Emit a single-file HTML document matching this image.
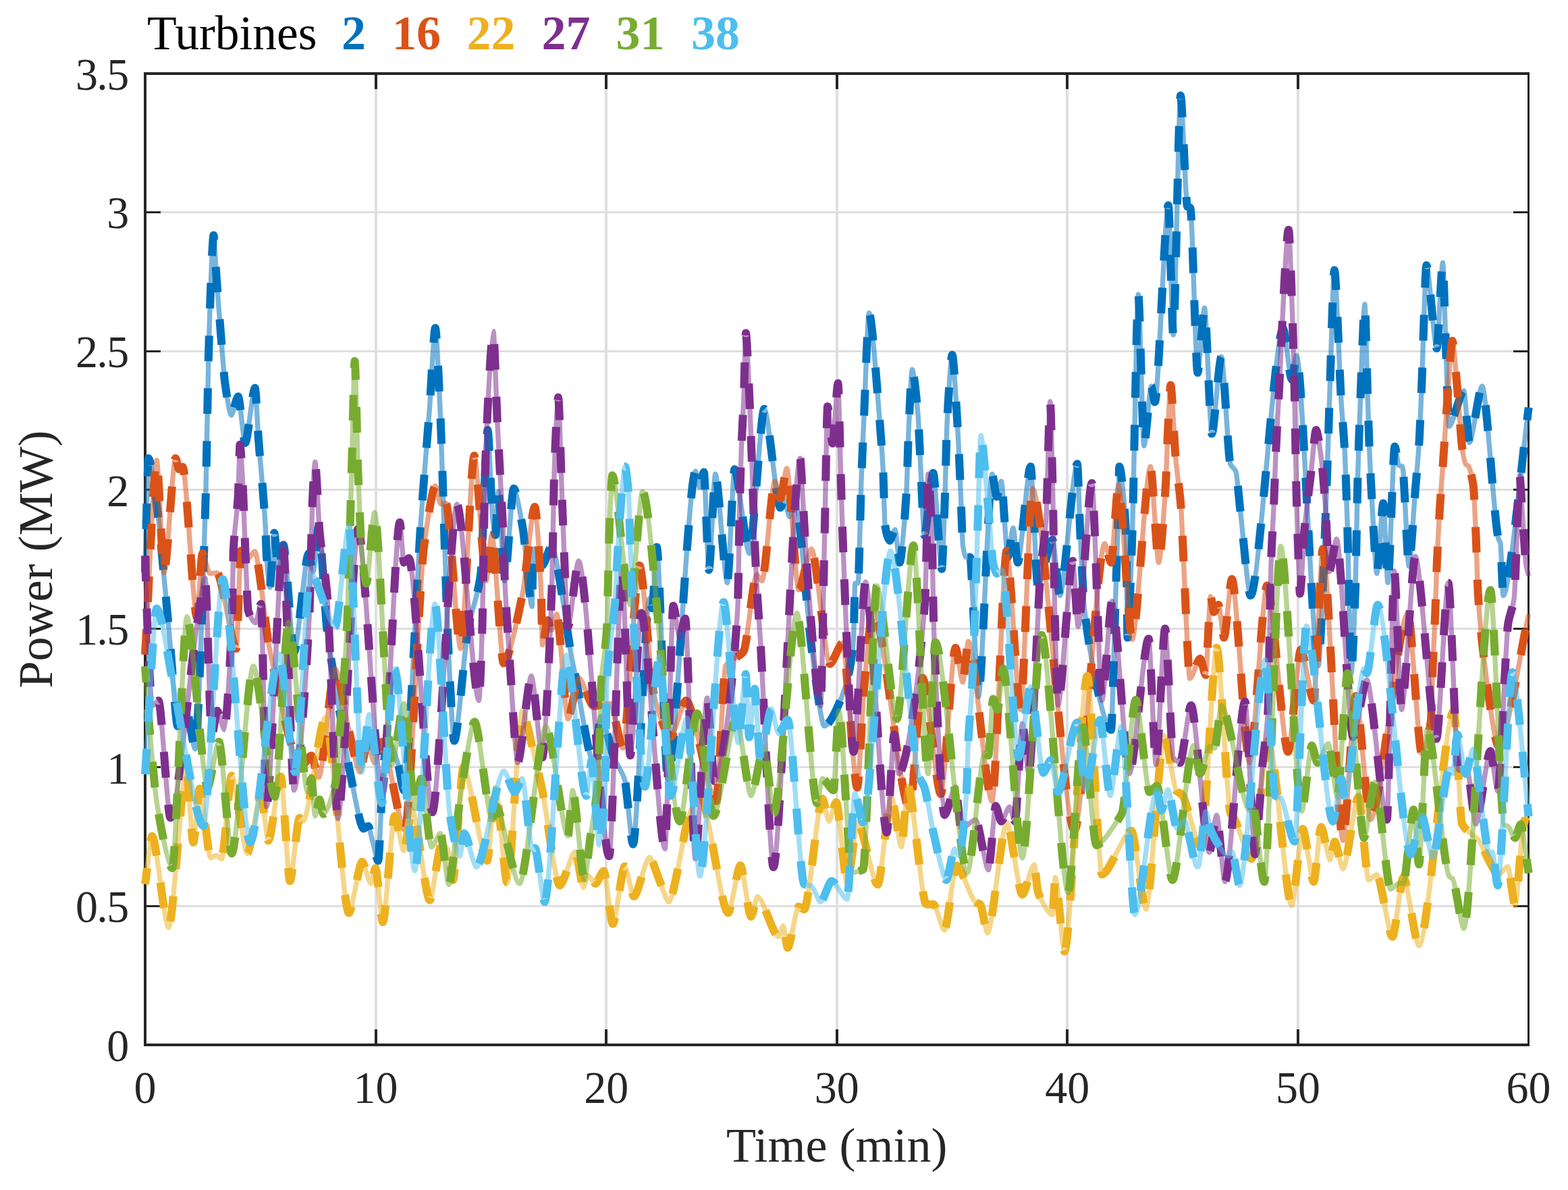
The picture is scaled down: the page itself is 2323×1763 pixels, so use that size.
<!DOCTYPE html>
<html lang="en"><head><meta charset="utf-8"><title>Turbines power</title>
<style>html,body{margin:0;padding:0;background:#fff}body{width:2323px;height:1763px;overflow:hidden}svg{display:block}text{font-family:"Liberation Serif","DejaVu Serif",serif}</style></head><body>
<svg width="2323" height="1763" viewBox="0 0 2323 1763">
<rect width="2323" height="1763" fill="#fff"/>
<g fill="#dfdfdf"><rect x="555" y="111" width="4" height="1435"/><rect x="896" y="111" width="4" height="1435"/><rect x="1238" y="111" width="4" height="1435"/><rect x="1579" y="111" width="4" height="1435"/><rect x="1921" y="111" width="4" height="1435"/><rect x="217" y="1341" width="2046" height="3"/><rect x="217" y="1135" width="2046" height="3"/><rect x="217" y="930" width="2046" height="3"/><rect x="217" y="724" width="2046" height="3"/><rect x="217" y="519" width="2046" height="3"/><rect x="217" y="313" width="2046" height="3"/></g>
<g fill="#262626"><rect x="555" y="1525" width="4" height="21"/><rect x="555" y="111" width="4" height="21"/><rect x="896" y="1525" width="4" height="21"/><rect x="896" y="111" width="4" height="21"/><rect x="1238" y="1525" width="4" height="21"/><rect x="1238" y="111" width="4" height="21"/><rect x="1579" y="1525" width="4" height="21"/><rect x="1579" y="111" width="4" height="21"/><rect x="1921" y="1525" width="4" height="21"/><rect x="1921" y="111" width="4" height="21"/><rect x="217" y="1341" width="21" height="3"/><rect x="2242" y="1341" width="21" height="3"/><rect x="217" y="1135" width="21" height="3"/><rect x="2242" y="1135" width="21" height="3"/><rect x="217" y="930" width="21" height="3"/><rect x="2242" y="930" width="21" height="3"/><rect x="217" y="724" width="21" height="3"/><rect x="2242" y="724" width="21" height="3"/><rect x="217" y="519" width="21" height="3"/><rect x="2242" y="519" width="21" height="3"/><rect x="217" y="313" width="21" height="3"/><rect x="2242" y="313" width="21" height="3"/>
<rect x="213" y="107" width="4" height="1443"/><rect x="213" y="107" width="2053" height="4"/><rect x="213" y="1546" width="2053" height="4"/><rect x="2263" y="107" width="3" height="1443"/></g>
<path d="M215.0 847.8C216.2 805.6 218.7 679.0 219.9 679.0C223.6 679.0 231.1 739.8 234.8 769.1C236.9 785.2 240.9 832.7 243.0 854.6C245.4 880.0 250.1 933.1 252.5 959.0C255.2 988.4 260.6 1075.8 263.3 1075.8C266.5 1075.8 272.9 1050.3 276.1 1050.3C279.4 1050.3 285.9 1109.8 289.1 1109.8C293.1 1109.8 301.0 864.3 305.0 724.7C305.9 691.3 307.9 570.4 308.8 534.8C310.1 484.2 312.9 399.4 314.2 376.6C314.8 367.3 315.8 348.4 316.4 348.4C317.4 348.4 319.5 394.0 320.5 408.2C322.1 430.0 325.2 470.9 326.8 490.5C328.4 510.4 331.6 554.7 333.2 566.5C335.6 584.0 340.3 615.2 342.7 615.2C345.2 615.2 350.3 587.4 352.8 587.4C355.4 587.4 360.6 656.3 363.2 656.3C366.9 656.3 374.1 574.7 377.8 574.7C379.1 574.7 381.6 631.5 382.8 648.7C385.4 684.9 390.7 732.7 393.3 781.6C393.7 789.1 394.5 817.3 394.9 823.4C396.1 842.0 398.6 870.1 399.8 870.1C401.4 870.1 404.7 789.4 406.3 789.4C407.9 789.4 410.9 847.0 412.5 847.0C414.3 847.0 418.0 807.3 419.8 807.3C423.8 807.3 431.7 966.3 435.6 966.3C441.0 966.3 451.9 820.1 457.3 820.1C459.0 820.1 462.3 847.0 464.0 847.0C466.1 847.0 470.1 779.4 472.2 779.4C475.2 779.4 481.3 905.2 484.4 931.9C488.1 964.5 495.6 1007.2 499.3 1030.5C504.4 1062.2 514.5 1125.4 519.6 1149.9C524.4 1172.8 533.9 1227.7 538.6 1227.7C540.3 1227.7 543.7 1223.9 545.4 1223.9C547.1 1223.9 550.5 1241.6 552.2 1247.5C554.2 1254.5 558.3 1275.2 560.3 1275.2C562.0 1275.2 565.4 1169.3 567.1 1149.9C568.8 1130.5 572.2 1093.7 573.9 1093.7C578.0 1093.7 586.1 1120.1 590.2 1133.6C592.2 1140.3 596.3 1170.8 598.3 1170.8C604.8 1170.8 617.6 854.1 624.1 763.7C627.1 720.9 633.2 647.4 636.3 606.4C638.4 577.5 642.8 486.1 644.9 486.1C646.8 486.1 650.7 578.2 652.6 619.9C655.3 678.4 660.7 886.1 663.4 942.7C665.8 992.5 670.5 1097.5 672.9 1097.5C678.0 1097.5 688.1 960.3 693.2 931.9C698.0 905.3 707.5 886.6 712.2 850.5C714.8 830.9 719.9 637.0 722.5 637.0C724.4 637.0 728.0 753.5 729.9 769.1C730.9 777.5 732.9 792.7 733.9 792.7C735.0 792.7 737.2 727.9 738.3 727.9C740.6 727.9 745.2 860.6 747.5 860.6C750.9 860.6 757.7 723.8 761.1 723.8C764.5 723.8 771.2 763.2 774.6 782.7C778.0 802.3 784.8 898.5 788.2 898.5C788.6 898.5 789.5 813.3 789.9 813.3C793.3 813.3 800.1 837.5 803.5 837.5C806.9 837.5 813.7 809.2 817.1 809.2C824.5 809.2 839.5 934.9 846.9 973.6C848.2 980.6 850.9 994.1 852.3 1000.7C859.1 1034.0 872.6 1130.1 879.4 1130.1C882.1 1130.1 887.6 1061.1 890.3 1061.1C895.0 1061.1 904.5 1111.0 909.3 1122.7C913.4 1132.7 921.5 1141.9 925.6 1155.3C928.6 1165.3 934.8 1250.8 937.8 1250.8C943.9 1250.8 956.1 886.5 962.2 886.5C963.2 886.5 965.2 901.2 966.2 901.2C967.9 901.2 971.3 810.6 973.0 810.6C977.1 810.6 985.2 1154.5 989.3 1154.5C999.6 1154.5 1020.2 698.0 1030.5 698.0C1031.9 698.0 1034.8 722.2 1036.2 722.2C1037.8 722.2 1041.1 699.4 1042.7 699.4C1044.6 699.4 1048.4 844.3 1050.3 844.3C1052.7 844.3 1057.4 702.1 1059.8 702.1C1064.2 702.1 1073.1 863.3 1077.5 863.3C1080.2 863.3 1085.6 695.3 1088.3 695.3C1093.7 695.3 1104.6 819.9 1110.0 819.9C1115.6 819.9 1126.7 605.8 1132.3 605.8C1138.2 605.8 1150.1 752.1 1156.1 752.1C1157.4 752.1 1160.2 740.1 1161.5 740.1C1163.5 740.1 1167.7 765.6 1169.7 765.6C1171.4 765.6 1174.8 727.9 1176.5 727.9C1182.9 727.9 1195.8 912.5 1202.2 959.0C1207.0 993.4 1216.5 1075.8 1221.2 1075.8C1229.3 1075.8 1245.7 1039.5 1253.8 1013.2C1256.5 1004.5 1261.9 979.8 1264.6 945.4C1265.1 938.4 1266.2 864.1 1266.8 864.1C1267.9 864.1 1270.2 864.1 1271.3 864.1C1272.5 864.1 1274.8 746.3 1275.9 714.9C1276.9 687.6 1278.9 642.1 1279.9 619.9C1281.8 577.7 1285.6 463.5 1287.5 463.5C1291.4 463.5 1299.1 572.3 1303.0 619.9C1304.3 636.5 1307.1 671.4 1308.4 698.6C1309.1 712.2 1310.4 772.6 1311.1 777.3C1312.8 789.2 1316.2 800.9 1317.9 800.9C1319.9 800.9 1324.0 784.8 1326.0 784.8C1327.7 784.8 1331.1 833.4 1332.8 833.4C1335.4 833.4 1340.5 769.3 1343.1 725.7C1343.8 714.3 1345.1 662.6 1345.8 647.1C1347.2 615.6 1349.9 547.5 1351.3 547.5C1353.5 547.5 1357.8 589.1 1360.0 614.5C1361.0 626.2 1363.0 674.1 1364.0 693.2C1365.3 718.9 1368.1 792.7 1369.4 792.7C1372.7 792.7 1379.2 700.7 1382.5 700.7C1385.7 700.7 1392.0 842.9 1395.2 842.9C1396.4 842.9 1398.9 766.1 1400.1 731.1C1400.8 711.8 1402.1 647.9 1402.8 633.5C1404.8 591.3 1408.7 525.8 1410.7 525.8C1412.9 525.8 1417.4 610.7 1419.6 649.8C1420.5 665.6 1422.3 707.6 1423.2 728.4C1424.0 746.9 1425.6 800.9 1426.4 807.1C1427.4 815.0 1429.5 825.2 1430.5 825.3C1432.2 825.4 1435.6 825.4 1437.3 825.5C1438.7 825.6 1441.3 895.4 1442.7 918.3C1444.4 947.2 1447.8 1032.4 1449.5 1032.4C1454.6 1032.4 1464.7 702.1 1469.8 702.1C1471.5 702.1 1474.9 735.8 1476.6 735.8C1478.3 735.8 1481.7 712.9 1483.4 712.9C1485.8 712.9 1490.5 825.3 1492.9 825.3C1494.9 825.3 1499.0 782.1 1501.0 782.1C1502.7 782.1 1506.1 833.4 1507.8 833.4C1512.5 833.4 1522.0 691.2 1526.8 691.2C1529.5 691.2 1534.9 868.7 1537.6 868.7C1543.0 868.7 1553.9 799.7 1559.3 799.7C1562.0 799.7 1567.5 882.3 1570.2 882.3C1576.6 882.3 1589.5 687.2 1595.9 687.2C1597.1 687.2 1599.4 772.6 1600.6 796.2C1602.1 827.3 1605.2 891.8 1606.8 904.7C1616.6 986.7 1636.3 1081.3 1646.1 1081.3C1647.6 1081.3 1650.6 950.1 1652.1 904.7C1653.0 878.2 1654.7 826.5 1655.6 796.2C1656.3 772.8 1657.6 691.2 1658.3 691.2C1660.8 691.2 1665.9 741.6 1668.4 796.2C1668.9 807.6 1670.0 944.6 1670.5 944.6C1672.2 944.6 1675.6 843.4 1677.3 796.2C1679.6 733.1 1684.1 436.2 1686.4 436.2C1688.5 436.2 1692.7 660.7 1694.8 660.7C1697.5 660.7 1702.9 571.9 1705.6 571.9C1706.9 571.9 1709.7 595.6 1711.0 595.6C1716.0 595.6 1725.9 304.2 1730.9 304.2C1732.7 304.2 1736.4 496.1 1738.2 496.1C1740.9 496.1 1746.3 141.5 1749.0 141.5C1751.5 141.5 1756.6 304.2 1759.1 306.1C1760.2 306.9 1762.4 307.2 1763.5 308.0C1766.2 310.0 1771.6 552.2 1774.3 552.2C1776.8 552.2 1782.0 456.1 1784.5 456.1C1787.2 456.1 1792.6 642.6 1795.3 642.6C1798.8 642.6 1805.9 528.5 1809.4 528.5C1812.8 528.5 1819.5 680.2 1822.8 687.7C1824.8 692.3 1829.0 693.7 1831.0 698.6C1832.7 702.6 1836.0 743.9 1837.7 758.3C1841.5 790.6 1849.0 882.3 1852.7 882.3C1864.8 882.3 1888.9 487.0 1900.9 487.0C1904.1 487.0 1910.5 562.2 1913.7 562.2C1915.5 562.2 1919.0 526.6 1920.8 526.6C1928.8 526.6 1945.0 986.4 1953.0 986.4C1956.4 986.4 1963.2 778.2 1966.6 687.7C1967.5 664.4 1969.2 604.3 1970.1 579.2C1971.8 530.4 1975.2 400.2 1976.9 400.2C1979.4 400.2 1984.4 552.3 1986.9 592.8C1988.3 615.1 1991.0 644.9 1992.4 671.5C1993.3 688.5 1995.0 741.3 1995.9 769.1C1997.4 816.7 2000.4 997.3 2001.9 997.3C2003.5 997.3 2006.5 916.3 2008.1 869.5C2008.9 845.4 2010.5 744.7 2011.3 714.9C2012.3 676.8 2014.4 618.9 2015.4 592.8C2017.0 551.3 2020.3 450.7 2021.9 450.7C2023.0 450.7 2025.2 559.2 2026.3 592.8C2027.0 613.4 2028.3 655.5 2029.0 671.5C2030.0 695.3 2032.0 733.1 2033.0 750.1C2034.7 779.0 2038.1 849.7 2039.8 849.7C2042.2 849.7 2046.9 745.5 2049.3 745.5C2051.0 745.5 2054.4 863.3 2056.1 863.3C2058.7 863.3 2063.8 661.4 2066.4 661.4C2067.9 661.4 2070.9 688.9 2072.4 689.7C2073.8 690.4 2076.5 690.5 2077.8 691.2C2080.2 692.4 2084.9 838.9 2087.3 838.9C2089.7 838.9 2094.4 754.9 2096.8 725.7C2098.4 706.6 2101.4 673.6 2103.0 647.1C2103.8 633.0 2105.5 588.5 2106.3 568.4C2108.1 525.7 2111.6 392.9 2113.3 392.9C2117.1 392.9 2124.7 516.1 2128.5 516.1C2130.8 516.1 2135.2 389.3 2137.5 389.3C2138.4 389.3 2140.4 465.5 2141.3 490.6C2142.7 526.3 2145.3 631.9 2146.7 631.9C2152.2 631.9 2163.2 578.7 2168.7 578.7C2170.7 578.7 2174.8 655.8 2176.8 655.8C2181.6 655.8 2191.1 571.9 2195.8 571.9C2201.9 571.9 2214.1 781.9 2220.2 799.0C2220.9 800.9 2222.2 802.1 2222.9 804.4C2223.9 807.9 2226.0 882.3 2227.0 882.3C2236.4 882.3 2255.3 673.4 2264.7 603.7" fill="none" stroke="#0072BD" stroke-opacity="0.53" stroke-width="7.4" stroke-linejoin="round"/>
<path d="M215.0 847.8C216.2 805.6 218.7 679.0 219.9 679.0C223.6 679.0 231.1 739.8 234.8 769.1C236.9 785.2 240.9 832.7 243.0 854.6C245.4 880.0 250.1 933.1 252.5 959.0C255.2 988.4 260.6 1075.8 263.3 1075.8C266.5 1075.8 272.9 1050.3 276.1 1050.3C279.4 1050.3 285.9 1109.8 289.1 1109.8C293.1 1109.8 301.0 864.3 305.0 724.7C305.9 691.3 307.9 570.4 308.8 534.8C310.1 484.2 312.9 399.4 314.2 376.6C314.8 367.3 315.8 348.4 316.4 348.4C317.4 348.4 319.5 394.0 320.5 408.2C322.1 430.0 325.2 470.9 326.8 490.5C328.4 510.4 331.6 554.7 333.2 566.5C335.6 584.0 340.3 615.2 342.7 615.2C345.2 615.2 350.3 587.4 352.8 587.4C355.4 587.4 360.6 656.3 363.2 656.3C366.9 656.3 374.1 574.7 377.8 574.7C379.1 574.7 381.6 631.5 382.8 648.7C385.4 684.9 390.7 732.7 393.3 781.6C393.7 789.1 394.5 817.3 394.9 823.4C396.1 842.0 398.6 870.1 399.8 870.1C401.4 870.1 404.7 789.4 406.3 789.4C407.9 789.4 410.9 847.0 412.5 847.0C414.3 847.0 418.0 807.3 419.8 807.3C423.8 807.3 431.7 966.3 435.6 966.3C441.0 966.3 451.9 820.1 457.3 820.1C459.0 820.1 462.3 847.0 464.0 847.0C466.1 847.0 470.1 779.4 472.2 779.4C475.2 779.4 481.3 905.2 484.4 931.9C488.1 964.5 495.6 1007.2 499.3 1030.5C504.4 1062.2 514.5 1125.4 519.6 1149.9C524.4 1172.8 533.9 1227.7 538.6 1227.7C540.3 1227.7 543.7 1223.9 545.4 1223.9C547.1 1223.9 550.5 1241.6 552.2 1247.5C554.2 1254.5 558.3 1275.2 560.3 1275.2C562.0 1275.2 565.4 1169.3 567.1 1149.9C568.8 1130.5 572.2 1093.7 573.9 1093.7C578.0 1093.7 586.1 1120.1 590.2 1133.6C592.2 1140.3 596.3 1170.8 598.3 1170.8C604.8 1170.8 617.6 854.1 624.1 763.7C627.1 720.9 633.2 647.4 636.3 606.4C638.4 577.5 642.8 486.1 644.9 486.1C646.8 486.1 650.7 578.2 652.6 619.9C655.3 678.4 660.7 886.1 663.4 942.7C665.8 992.5 670.5 1097.5 672.9 1097.5C678.0 1097.5 688.1 960.3 693.2 931.9C698.0 905.3 707.5 886.6 712.2 850.5C714.8 830.9 719.9 637.0 722.5 637.0C724.4 637.0 728.0 753.5 729.9 769.1C730.9 777.5 732.9 792.7 733.9 792.7C735.0 792.7 737.2 727.9 738.3 727.9C740.6 727.9 745.2 860.6 747.5 860.6C750.9 860.6 757.7 723.8 761.1 723.8C764.5 723.8 771.2 763.2 774.6 782.7C778.0 802.3 784.8 898.5 788.2 898.5C788.6 898.5 789.5 813.3 789.9 813.3C793.3 813.3 800.1 837.5 803.5 837.5C806.9 837.5 813.7 809.2 817.1 809.2C824.5 809.2 839.5 934.9 846.9 973.6C848.2 980.6 850.9 994.1 852.3 1000.7C859.1 1034.0 872.6 1130.1 879.4 1130.1C882.1 1130.1 887.6 1061.1 890.3 1061.1C895.0 1061.1 904.5 1111.0 909.3 1122.7C913.4 1132.7 921.5 1141.9 925.6 1155.3C928.6 1165.3 934.8 1250.8 937.8 1250.8C943.9 1250.8 956.1 886.5 962.2 886.5C963.2 886.5 965.2 901.2 966.2 901.2C967.9 901.2 971.3 810.6 973.0 810.6C977.1 810.6 985.2 1154.5 989.3 1154.5C999.6 1154.5 1020.2 698.0 1030.5 698.0C1031.9 698.0 1034.8 722.2 1036.2 722.2C1037.8 722.2 1041.1 699.4 1042.7 699.4C1044.6 699.4 1048.4 844.3 1050.3 844.3C1052.7 844.3 1057.4 702.1 1059.8 702.1C1064.2 702.1 1073.1 863.3 1077.5 863.3C1080.2 863.3 1085.6 695.3 1088.3 695.3C1093.7 695.3 1104.6 819.9 1110.0 819.9C1115.6 819.9 1126.7 605.8 1132.3 605.8C1138.2 605.8 1150.1 752.1 1156.1 752.1C1157.4 752.1 1160.2 740.1 1161.5 740.1C1163.5 740.1 1167.7 765.6 1169.7 765.6C1171.4 765.6 1174.8 727.9 1176.5 727.9C1182.9 727.9 1195.8 912.5 1202.2 959.0C1207.0 993.4 1216.5 1075.8 1221.2 1075.8C1229.3 1075.8 1245.7 1039.5 1253.8 1013.2C1256.5 1004.5 1261.9 979.8 1264.6 945.4C1265.1 938.4 1266.2 864.1 1266.8 864.1C1267.9 864.1 1270.2 864.1 1271.3 864.1C1272.5 864.1 1274.8 746.3 1275.9 714.9C1276.9 687.6 1278.9 642.1 1279.9 619.9C1281.8 577.7 1285.6 463.5 1287.5 463.5C1291.4 463.5 1299.1 572.3 1303.0 619.9C1304.3 636.5 1307.1 671.4 1308.4 698.6C1309.1 712.2 1310.4 772.6 1311.1 777.3C1312.8 789.2 1316.2 800.9 1317.9 800.9C1319.9 800.9 1324.0 784.8 1326.0 784.8C1327.7 784.8 1331.1 833.4 1332.8 833.4C1335.4 833.4 1340.5 769.3 1343.1 725.7C1343.8 714.3 1345.1 662.6 1345.8 647.1C1347.2 615.6 1349.9 547.5 1351.3 547.5C1353.5 547.5 1357.8 589.1 1360.0 614.5C1361.0 626.2 1363.0 674.1 1364.0 693.2C1365.3 718.9 1368.1 792.7 1369.4 792.7C1372.7 792.7 1379.2 700.7 1382.5 700.7C1385.7 700.7 1392.0 842.9 1395.2 842.9C1396.4 842.9 1398.9 766.1 1400.1 731.1C1400.8 711.8 1402.1 647.9 1402.8 633.5C1404.8 591.3 1408.7 525.8 1410.7 525.8C1412.9 525.8 1417.4 610.7 1419.6 649.8C1420.5 665.6 1422.3 707.6 1423.2 728.4C1424.0 746.9 1425.6 800.9 1426.4 807.1C1427.4 815.0 1429.5 825.2 1430.5 825.3C1432.2 825.4 1435.6 825.4 1437.3 825.5C1438.7 825.6 1441.3 895.4 1442.7 918.3C1444.4 947.2 1447.8 1032.4 1449.5 1032.4C1454.6 1032.4 1464.7 702.1 1469.8 702.1C1471.5 702.1 1474.9 735.8 1476.6 735.8C1478.3 735.8 1481.7 712.9 1483.4 712.9C1485.8 712.9 1490.5 825.3 1492.9 825.3C1494.9 825.3 1499.0 782.1 1501.0 782.1C1502.7 782.1 1506.1 833.4 1507.8 833.4C1512.5 833.4 1522.0 691.2 1526.8 691.2C1529.5 691.2 1534.9 868.7 1537.6 868.7C1543.0 868.7 1553.9 799.7 1559.3 799.7C1562.0 799.7 1567.5 882.3 1570.2 882.3C1576.6 882.3 1589.5 687.2 1595.9 687.2C1597.1 687.2 1599.4 772.6 1600.6 796.2C1602.1 827.3 1605.2 891.8 1606.8 904.7C1616.6 986.7 1636.3 1081.3 1646.1 1081.3C1647.6 1081.3 1650.6 950.1 1652.1 904.7C1653.0 878.2 1654.7 826.5 1655.6 796.2C1656.3 772.8 1657.6 691.2 1658.3 691.2C1660.8 691.2 1665.9 741.6 1668.4 796.2C1668.9 807.6 1670.0 944.6 1670.5 944.6C1672.2 944.6 1675.6 843.4 1677.3 796.2C1679.6 733.1 1684.1 436.2 1686.4 436.2C1688.5 436.2 1692.7 660.7 1694.8 660.7C1697.5 660.7 1702.9 571.9 1705.6 571.9C1706.9 571.9 1709.7 595.6 1711.0 595.6C1716.0 595.6 1725.9 304.2 1730.9 304.2C1732.7 304.2 1736.4 496.1 1738.2 496.1C1740.9 496.1 1746.3 141.5 1749.0 141.5C1751.5 141.5 1756.6 304.2 1759.1 306.1C1760.2 306.9 1762.4 307.2 1763.5 308.0C1766.2 310.0 1771.6 552.2 1774.3 552.2C1776.8 552.2 1782.0 456.1 1784.5 456.1C1787.2 456.1 1792.6 642.6 1795.3 642.6C1798.8 642.6 1805.9 528.5 1809.4 528.5C1812.8 528.5 1819.5 680.2 1822.8 687.7C1824.8 692.3 1829.0 693.7 1831.0 698.6C1832.7 702.6 1836.0 743.9 1837.7 758.3C1841.5 790.6 1849.0 882.3 1852.7 882.3C1864.8 882.3 1888.9 487.0 1900.9 487.0C1904.1 487.0 1910.5 562.2 1913.7 562.2C1915.5 562.2 1919.0 526.6 1920.8 526.6C1928.8 526.6 1945.0 986.4 1953.0 986.4C1956.4 986.4 1963.2 778.2 1966.6 687.7C1967.5 664.4 1969.2 604.3 1970.1 579.2C1971.8 530.4 1975.2 400.2 1976.9 400.2C1979.4 400.2 1984.4 552.3 1986.9 592.8C1988.3 615.1 1991.0 644.9 1992.4 671.5C1993.3 688.5 1995.0 741.3 1995.9 769.1C1997.4 816.7 2000.4 997.3 2001.9 997.3C2003.5 997.3 2006.5 916.3 2008.1 869.5C2008.9 845.4 2010.5 744.7 2011.3 714.9C2012.3 676.8 2014.4 618.9 2015.4 592.8C2017.0 551.3 2020.3 450.7 2021.9 450.7C2023.0 450.7 2025.2 559.2 2026.3 592.8C2027.0 613.4 2028.3 655.5 2029.0 671.5C2030.0 695.3 2032.0 733.1 2033.0 750.1C2034.7 779.0 2038.1 849.7 2039.8 849.7C2042.2 849.7 2046.9 745.5 2049.3 745.5C2051.0 745.5 2054.4 863.3 2056.1 863.3C2058.7 863.3 2063.8 661.4 2066.4 661.4C2067.9 661.4 2070.9 688.9 2072.4 689.7C2073.8 690.4 2076.5 690.5 2077.8 691.2C2080.2 692.4 2084.9 838.9 2087.3 838.9C2089.7 838.9 2094.4 754.9 2096.8 725.7C2098.4 706.6 2101.4 673.6 2103.0 647.1C2103.8 633.0 2105.5 588.5 2106.3 568.4C2108.1 525.7 2111.6 392.9 2113.3 392.9C2117.1 392.9 2124.7 516.1 2128.5 516.1C2130.8 516.1 2135.2 389.3 2137.5 389.3C2138.4 389.3 2140.4 465.5 2141.3 490.6C2142.7 526.3 2145.3 631.9 2146.7 631.9C2152.2 631.9 2163.2 578.7 2168.7 578.7C2170.7 578.7 2174.8 655.8 2176.8 655.8C2181.6 655.8 2191.1 571.9 2195.8 571.9C2201.9 571.9 2214.1 781.9 2220.2 799.0C2220.9 800.9 2222.2 802.1 2222.9 804.4C2223.9 807.9 2226.0 882.3 2227.0 882.3C2236.4 882.3 2255.3 673.4 2264.7 603.7" fill="none" stroke="#0072BD" stroke-width="12" stroke-dasharray="38 40" stroke-dashoffset="14" stroke-linejoin="round"/>
<path d="M215.0 969.8C219.3 897.8 227.8 681.8 232.1 681.8C234.8 681.8 240.3 848.4 243.0 848.4C247.3 848.4 255.8 679.0 260.1 679.0C261.4 679.0 263.9 695.1 265.2 695.1C266.6 695.1 269.2 691.8 270.6 691.8C275.9 691.8 286.5 914.8 291.8 914.8C293.8 914.8 297.9 820.1 299.9 820.1C302.6 820.1 308.1 849.7 310.8 849.7C313.5 849.7 318.9 848.6 321.6 848.6C328.7 848.6 343.0 960.9 350.1 960.9C351.8 960.9 355.2 816.0 356.9 816.0C359.6 816.0 365.0 828.0 367.7 828.0C370.1 828.0 374.8 816.6 377.2 816.6C382.6 816.6 393.5 932.3 398.9 959.0C410.8 1017.4 434.5 1135.5 446.4 1135.5C450.1 1135.5 457.6 1119.5 461.3 1119.5C464.0 1119.5 469.5 1151.8 472.2 1151.8C478.3 1151.8 490.5 990.6 496.6 990.6C501.7 990.6 511.8 1061.3 516.9 1082.1C521.0 1098.8 529.1 1143.7 533.2 1143.7C535.9 1143.7 541.4 1101.8 544.1 1101.8C546.8 1101.8 552.2 1130.1 554.9 1130.1C557.6 1130.1 563.1 1099.1 565.8 1099.1C574.3 1099.1 591.2 1230.5 599.7 1230.5C606.8 1230.5 621.0 863.3 628.1 809.8C632.3 777.9 640.8 719.7 645.0 719.7C646.9 719.7 650.7 746.6 652.6 746.6C654.6 746.6 658.7 745.5 660.7 745.5C666.1 745.5 677.0 960.9 682.4 960.9C687.5 960.9 697.6 675.0 702.7 675.0C707.1 675.0 716.0 860.6 720.4 860.6C722.4 860.6 726.5 791.6 728.5 791.6C732.9 791.6 741.7 982.6 746.1 982.6C753.2 982.6 767.5 913.1 774.6 877.6C779.0 855.5 787.9 750.9 792.3 750.9C794.6 750.9 799.4 822.8 801.7 877.6C802.2 888.1 803.0 955.5 803.5 955.5C805.5 955.5 809.6 919.1 811.6 919.1C813.0 919.1 815.7 933.8 817.1 933.8C819.0 933.8 822.8 909.6 824.7 909.6C828.9 909.6 837.3 1065.0 841.5 1065.0C845.5 1065.0 853.7 1004.2 857.7 1004.2C863.1 1004.2 874.0 1046.0 879.4 1046.0C885.5 1046.0 897.8 1042.2 903.9 1042.2C908.6 1042.2 918.1 1108.4 922.8 1108.4C928.9 1108.4 941.2 837.7 947.3 837.7C952.7 837.7 963.6 1008.9 969.0 1030.5C975.1 1054.7 987.3 1092.1 993.4 1092.1C999.1 1092.1 1010.6 1038.1 1016.4 1038.1C1027.6 1038.1 1050.0 1187.1 1061.2 1187.1C1064.6 1187.1 1071.3 993.0 1074.7 987.1C1081.5 975.2 1095.1 974.8 1101.9 964.4C1106.7 957.1 1116.2 851.3 1120.9 851.3C1122.9 851.3 1127.0 860.6 1129.0 860.6C1133.8 860.6 1143.2 712.9 1148.0 712.9C1150.0 712.9 1154.1 738.5 1156.1 738.5C1158.5 738.5 1163.2 694.0 1165.6 694.0C1170.0 694.0 1178.8 874.1 1183.2 874.1C1188.0 874.1 1197.5 813.3 1202.2 813.3C1209.0 813.3 1222.6 983.6 1229.4 983.6C1234.1 983.6 1243.6 952.7 1248.3 952.7C1253.7 952.7 1264.6 1166.7 1270.0 1166.7C1272.5 1166.7 1277.4 1050.3 1279.9 1022.4C1283.3 984.1 1290.1 900.1 1293.5 900.1C1307.0 900.1 1334.2 1199.3 1347.7 1199.3C1352.5 1199.3 1362.0 1004.2 1366.7 1004.2C1373.5 1004.2 1387.1 1176.2 1393.9 1176.2C1399.3 1176.2 1410.2 959.8 1415.6 959.8C1418.3 959.8 1423.7 1010.7 1426.4 1010.7C1428.4 1010.7 1432.5 950.3 1434.5 950.3C1443.3 950.3 1461.0 1187.1 1469.8 1187.1C1475.2 1187.1 1486.1 816.0 1491.5 816.0C1496.6 816.0 1506.8 1051.4 1511.9 1051.4C1516.3 1051.4 1525.1 723.8 1529.5 723.8C1545.1 723.8 1576.3 1230.5 1591.9 1230.5C1603.1 1230.5 1625.4 805.2 1636.6 805.2C1639.0 805.2 1643.7 833.4 1646.1 833.4C1648.8 833.4 1654.3 718.4 1657.0 718.4C1662.1 718.4 1672.2 947.4 1677.3 947.4C1684.1 947.4 1697.6 691.2 1704.4 691.2C1707.5 691.2 1713.5 833.4 1716.6 833.4C1719.2 833.4 1724.4 760.3 1727.0 717.6C1727.8 704.5 1729.4 654.9 1730.2 638.9C1731.2 618.4 1733.3 570.5 1734.3 570.5C1736.1 570.5 1739.8 656.0 1741.6 676.9C1743.6 700.1 1747.7 725.4 1749.7 752.8C1750.7 765.6 1752.5 812.7 1753.5 831.5C1755.8 877.5 1760.5 1005.3 1762.8 1005.3C1766.6 1005.3 1774.3 975.7 1778.1 975.7C1780.1 975.7 1784.2 999.9 1786.2 999.9C1788.0 999.9 1791.7 883.8 1793.5 883.8C1794.7 883.8 1797.2 906.7 1798.4 906.7C1800.1 906.7 1803.5 896.0 1805.2 896.0C1807.2 896.0 1811.3 944.6 1813.3 944.6C1816.2 944.6 1822.1 858.1 1825.0 858.1C1831.6 858.1 1844.7 1130.1 1851.3 1130.1C1857.8 1130.1 1870.6 867.6 1877.1 867.6C1884.9 867.6 1900.5 1113.8 1908.3 1113.8C1913.0 1113.8 1922.5 962.5 1927.3 962.5C1932.0 962.5 1941.5 1037.9 1946.2 1037.9C1949.6 1037.9 1956.4 813.3 1959.8 813.3C1967.2 813.3 1982.1 1245.4 1989.6 1245.4C1994.3 1245.4 2003.8 1031.3 2008.6 1031.3C2014.0 1031.3 2024.9 1214.2 2030.3 1214.2C2044.2 1214.2 2072.0 908.2 2085.9 908.2C2091.0 908.2 2101.2 1116.5 2106.3 1116.5C2109.7 1116.5 2116.4 1094.2 2119.8 1068.5C2120.5 1063.2 2121.9 1007.1 2122.6 989.8C2123.5 968.1 2125.2 935.0 2126.1 912.9C2126.8 895.9 2128.1 850.0 2128.8 834.2C2129.8 810.2 2131.9 772.4 2132.9 755.6C2134.2 733.5 2137.0 698.9 2138.3 679.6C2139.7 660.3 2142.3 618.9 2143.7 600.9C2145.7 574.6 2149.6 504.9 2151.6 504.9C2153.7 504.9 2157.9 564.5 2160.0 587.4C2161.6 605.1 2164.9 655.7 2166.5 666.0C2167.7 673.8 2170.2 686.3 2171.4 687.7C2172.4 688.9 2174.5 689.4 2175.5 690.5C2177.3 692.5 2181.0 707.1 2182.8 720.3C2183.8 727.5 2185.8 775.6 2186.8 799.0C2187.5 815.4 2188.9 865.2 2189.6 877.6C2191.2 905.1 2194.2 938.5 2195.8 952.2C2201.9 1005.9 2214.1 1105.7 2220.2 1105.7C2231.3 1105.7 2253.6 959.1 2264.7 910.2" fill="none" stroke="#D95319" stroke-opacity="0.53" stroke-width="7.4" stroke-linejoin="round"/>
<path d="M215.0 969.8C219.3 897.8 227.8 681.8 232.1 681.8C234.8 681.8 240.3 848.4 243.0 848.4C247.3 848.4 255.8 679.0 260.1 679.0C261.4 679.0 263.9 695.1 265.2 695.1C266.6 695.1 269.2 691.8 270.6 691.8C275.9 691.8 286.5 914.8 291.8 914.8C293.8 914.8 297.9 820.1 299.9 820.1C302.6 820.1 308.1 849.7 310.8 849.7C313.5 849.7 318.9 848.6 321.6 848.6C328.7 848.6 343.0 960.9 350.1 960.9C351.8 960.9 355.2 816.0 356.9 816.0C359.6 816.0 365.0 828.0 367.7 828.0C370.1 828.0 374.8 816.6 377.2 816.6C382.6 816.6 393.5 932.3 398.9 959.0C410.8 1017.4 434.5 1135.5 446.4 1135.5C450.1 1135.5 457.6 1119.5 461.3 1119.5C464.0 1119.5 469.5 1151.8 472.2 1151.8C478.3 1151.8 490.5 990.6 496.6 990.6C501.7 990.6 511.8 1061.3 516.9 1082.1C521.0 1098.8 529.1 1143.7 533.2 1143.7C535.9 1143.7 541.4 1101.8 544.1 1101.8C546.8 1101.8 552.2 1130.1 554.9 1130.1C557.6 1130.1 563.1 1099.1 565.8 1099.1C574.3 1099.1 591.2 1230.5 599.7 1230.5C606.8 1230.5 621.0 863.3 628.1 809.8C632.3 777.9 640.8 719.7 645.0 719.7C646.9 719.7 650.7 746.6 652.6 746.6C654.6 746.6 658.7 745.5 660.7 745.5C666.1 745.5 677.0 960.9 682.4 960.9C687.5 960.9 697.6 675.0 702.7 675.0C707.1 675.0 716.0 860.6 720.4 860.6C722.4 860.6 726.5 791.6 728.5 791.6C732.9 791.6 741.7 982.6 746.1 982.6C753.2 982.6 767.5 913.1 774.6 877.6C779.0 855.5 787.9 750.9 792.3 750.9C794.6 750.9 799.4 822.8 801.7 877.6C802.2 888.1 803.0 955.5 803.5 955.5C805.5 955.5 809.6 919.1 811.6 919.1C813.0 919.1 815.7 933.8 817.1 933.8C819.0 933.8 822.8 909.6 824.7 909.6C828.9 909.6 837.3 1065.0 841.5 1065.0C845.5 1065.0 853.7 1004.2 857.7 1004.2C863.1 1004.2 874.0 1046.0 879.4 1046.0C885.5 1046.0 897.8 1042.2 903.9 1042.2C908.6 1042.2 918.1 1108.4 922.8 1108.4C928.9 1108.4 941.2 837.7 947.3 837.7C952.7 837.7 963.6 1008.9 969.0 1030.5C975.1 1054.7 987.3 1092.1 993.4 1092.1C999.1 1092.1 1010.6 1038.1 1016.4 1038.1C1027.6 1038.1 1050.0 1187.1 1061.2 1187.1C1064.6 1187.1 1071.3 993.0 1074.7 987.1C1081.5 975.2 1095.1 974.8 1101.9 964.4C1106.7 957.1 1116.2 851.3 1120.9 851.3C1122.9 851.3 1127.0 860.6 1129.0 860.6C1133.8 860.6 1143.2 712.9 1148.0 712.9C1150.0 712.9 1154.1 738.5 1156.1 738.5C1158.5 738.5 1163.2 694.0 1165.6 694.0C1170.0 694.0 1178.8 874.1 1183.2 874.1C1188.0 874.1 1197.5 813.3 1202.2 813.3C1209.0 813.3 1222.6 983.6 1229.4 983.6C1234.1 983.6 1243.6 952.7 1248.3 952.7C1253.7 952.7 1264.6 1166.7 1270.0 1166.7C1272.5 1166.7 1277.4 1050.3 1279.9 1022.4C1283.3 984.1 1290.1 900.1 1293.5 900.1C1307.0 900.1 1334.2 1199.3 1347.7 1199.3C1352.5 1199.3 1362.0 1004.2 1366.7 1004.2C1373.5 1004.2 1387.1 1176.2 1393.9 1176.2C1399.3 1176.2 1410.2 959.8 1415.6 959.8C1418.3 959.8 1423.7 1010.7 1426.4 1010.7C1428.4 1010.7 1432.5 950.3 1434.5 950.3C1443.3 950.3 1461.0 1187.1 1469.8 1187.1C1475.2 1187.1 1486.1 816.0 1491.5 816.0C1496.6 816.0 1506.8 1051.4 1511.9 1051.4C1516.3 1051.4 1525.1 723.8 1529.5 723.8C1545.1 723.8 1576.3 1230.5 1591.9 1230.5C1603.1 1230.5 1625.4 805.2 1636.6 805.2C1639.0 805.2 1643.7 833.4 1646.1 833.4C1648.8 833.4 1654.3 718.4 1657.0 718.4C1662.1 718.4 1672.2 947.4 1677.3 947.4C1684.1 947.4 1697.6 691.2 1704.4 691.2C1707.5 691.2 1713.5 833.4 1716.6 833.4C1719.2 833.4 1724.4 760.3 1727.0 717.6C1727.8 704.5 1729.4 654.9 1730.2 638.9C1731.2 618.4 1733.3 570.5 1734.3 570.5C1736.1 570.5 1739.8 656.0 1741.6 676.9C1743.6 700.1 1747.7 725.4 1749.7 752.8C1750.7 765.6 1752.5 812.7 1753.5 831.5C1755.8 877.5 1760.5 1005.3 1762.8 1005.3C1766.6 1005.3 1774.3 975.7 1778.1 975.7C1780.1 975.7 1784.2 999.9 1786.2 999.9C1788.0 999.9 1791.7 883.8 1793.5 883.8C1794.7 883.8 1797.2 906.7 1798.4 906.7C1800.1 906.7 1803.5 896.0 1805.2 896.0C1807.2 896.0 1811.3 944.6 1813.3 944.6C1816.2 944.6 1822.1 858.1 1825.0 858.1C1831.6 858.1 1844.7 1130.1 1851.3 1130.1C1857.8 1130.1 1870.6 867.6 1877.1 867.6C1884.9 867.6 1900.5 1113.8 1908.3 1113.8C1913.0 1113.8 1922.5 962.5 1927.3 962.5C1932.0 962.5 1941.5 1037.9 1946.2 1037.9C1949.6 1037.9 1956.4 813.3 1959.8 813.3C1967.2 813.3 1982.1 1245.4 1989.6 1245.4C1994.3 1245.4 2003.8 1031.3 2008.6 1031.3C2014.0 1031.3 2024.9 1214.2 2030.3 1214.2C2044.2 1214.2 2072.0 908.2 2085.9 908.2C2091.0 908.2 2101.2 1116.5 2106.3 1116.5C2109.7 1116.5 2116.4 1094.2 2119.8 1068.5C2120.5 1063.2 2121.9 1007.1 2122.6 989.8C2123.5 968.1 2125.2 935.0 2126.1 912.9C2126.8 895.9 2128.1 850.0 2128.8 834.2C2129.8 810.2 2131.9 772.4 2132.9 755.6C2134.2 733.5 2137.0 698.9 2138.3 679.6C2139.7 660.3 2142.3 618.9 2143.7 600.9C2145.7 574.6 2149.6 504.9 2151.6 504.9C2153.7 504.9 2157.9 564.5 2160.0 587.4C2161.6 605.1 2164.9 655.7 2166.5 666.0C2167.7 673.8 2170.2 686.3 2171.4 687.7C2172.4 688.9 2174.5 689.4 2175.5 690.5C2177.3 692.5 2181.0 707.1 2182.8 720.3C2183.8 727.5 2185.8 775.6 2186.8 799.0C2187.5 815.4 2188.9 865.2 2189.6 877.6C2191.2 905.1 2194.2 938.5 2195.8 952.2C2201.9 1005.9 2214.1 1105.7 2220.2 1105.7C2231.3 1105.7 2253.6 959.1 2264.7 910.2" fill="none" stroke="#D95319" stroke-width="12" stroke-dasharray="38 40" stroke-dashoffset="0" stroke-linejoin="round"/>
<path d="M215.0 1309.9C217.6 1292.1 222.7 1238.8 225.3 1238.8C231.4 1238.8 243.7 1374.2 249.8 1374.2C256.4 1374.2 269.5 1141.2 276.1 1141.2C278.7 1141.2 283.8 1248.1 286.4 1248.1C288.8 1248.1 293.5 1168.3 295.9 1168.3C299.9 1168.3 308.1 1271.1 312.1 1271.1C314.2 1271.1 318.2 1267.3 320.3 1267.3C322.3 1267.3 326.4 1272.5 328.4 1272.5C332.1 1272.5 339.6 1149.3 343.3 1149.3C349.1 1149.3 360.6 1264.4 366.4 1264.4C371.5 1264.4 381.6 1177.8 386.7 1177.8C389.4 1177.8 394.9 1245.4 397.6 1245.4C402.2 1245.4 411.4 1150.7 416.0 1150.7C419.4 1150.7 426.2 1305.1 429.6 1305.1C433.1 1305.1 440.2 1211.7 443.7 1211.7C445.1 1211.7 447.8 1216.9 449.1 1216.9C457.4 1216.9 473.9 1062.5 482.2 1062.5C490.9 1062.5 508.2 1352.5 516.9 1352.5C521.8 1352.5 531.6 1276.8 536.5 1276.8C539.8 1276.8 546.2 1309.1 549.5 1309.1C551.2 1309.1 554.6 1286.3 556.3 1286.3C559.0 1286.3 564.4 1366.1 567.1 1366.1C571.5 1366.1 580.3 1209.0 584.7 1209.0C588.1 1209.0 594.9 1260.3 598.3 1260.3C601.3 1260.3 607.5 1199.5 610.5 1199.5C617.1 1199.5 630.2 1333.5 636.8 1333.5C641.1 1333.5 649.6 1251.0 653.9 1251.0C656.3 1251.0 661.0 1255.0 663.4 1258.4C665.3 1261.1 669.1 1303.7 671.0 1303.7C674.9 1303.7 682.6 1137.1 686.5 1137.1C695.3 1137.1 712.9 1275.2 721.7 1275.2C724.8 1275.2 730.9 1166.9 733.9 1166.9C738.3 1166.9 747.2 1307.8 751.6 1307.8C757.1 1307.8 768.2 1053.0 773.7 1053.0C777.4 1053.0 784.9 1091.8 788.6 1106.5C792.3 1121.2 799.8 1153.7 803.5 1171.6C810.0 1202.5 822.8 1311.8 829.3 1311.8C835.0 1311.8 846.5 1261.9 852.3 1261.9C855.3 1261.9 861.5 1314.5 864.5 1314.5C866.2 1314.5 869.6 1297.1 871.3 1297.1C874.0 1297.1 879.5 1309.1 882.2 1309.1C885.2 1309.1 891.4 1290.4 894.4 1290.4C897.8 1290.4 904.5 1368.8 907.9 1368.8C912.3 1368.8 921.2 1283.6 925.6 1283.6C929.0 1283.6 935.7 1328.1 939.1 1328.1C944.9 1328.1 956.4 1270.0 962.2 1270.0C965.9 1270.0 973.4 1295.8 977.1 1304.5C980.5 1312.4 987.3 1336.2 990.7 1336.2C998.2 1336.2 1013.0 1229.8 1020.5 1209.5C1024.6 1198.4 1032.7 1175.1 1036.8 1175.1C1047.3 1175.1 1068.3 1352.5 1078.8 1352.5C1083.3 1352.5 1092.5 1282.2 1097.0 1282.2C1100.9 1282.2 1108.8 1357.9 1112.7 1357.9C1115.1 1357.9 1119.8 1328.3 1122.2 1328.3C1130.0 1328.3 1145.6 1387.8 1153.4 1387.8C1155.1 1387.8 1158.5 1371.7 1160.2 1371.7C1161.9 1371.7 1165.3 1404.1 1167.0 1404.1C1171.0 1404.1 1179.2 1343.2 1183.2 1343.2C1185.2 1343.2 1189.4 1347.1 1191.4 1347.1C1198.2 1347.1 1211.7 1183.2 1218.5 1183.2C1220.9 1183.2 1225.6 1216.9 1228.0 1216.9C1230.7 1216.9 1236.2 1188.6 1238.9 1188.6C1243.0 1188.6 1251.0 1309.1 1255.1 1309.1C1258.9 1309.1 1266.6 1218.5 1270.4 1218.5C1277.9 1218.5 1292.8 1310.5 1300.3 1310.5C1305.4 1310.5 1315.5 1180.5 1320.6 1180.5C1324.3 1180.5 1331.8 1254.9 1335.5 1254.9C1337.9 1254.9 1342.6 1164.2 1345.0 1164.2C1351.8 1164.2 1365.4 1339.7 1372.2 1339.7C1374.9 1339.7 1380.3 1339.7 1383.0 1339.7C1387.1 1339.7 1395.2 1378.3 1399.3 1378.3C1403.7 1378.3 1412.5 1282.2 1416.9 1282.2C1424.0 1282.2 1438.3 1332.9 1445.4 1337.0C1447.1 1338.0 1450.5 1338.5 1452.2 1339.7C1454.9 1341.5 1460.3 1382.4 1463.0 1382.4C1470.1 1382.4 1484.4 1218.5 1491.5 1218.5C1497.3 1218.5 1508.8 1325.4 1514.6 1325.4C1519.0 1325.4 1527.8 1280.9 1532.2 1280.9C1533.5 1280.9 1536.2 1316.8 1537.6 1320.8C1543.0 1337.1 1553.9 1355.2 1559.3 1355.2C1560.3 1355.2 1562.4 1299.8 1563.4 1299.8C1566.8 1299.8 1573.6 1409.5 1577.0 1409.5C1585.5 1409.5 1602.4 1001.5 1610.9 1001.5C1616.3 1001.5 1627.2 1295.6 1632.6 1295.6C1643.4 1295.6 1665.2 1230.7 1676.0 1230.7C1681.4 1230.7 1692.3 1347.1 1697.7 1347.1C1704.5 1347.1 1718.0 1089.6 1724.8 1089.6C1729.3 1089.6 1738.3 1166.8 1742.8 1171.6C1744.8 1173.8 1748.9 1175.0 1750.9 1177.0C1758.0 1183.9 1772.3 1254.9 1779.4 1254.9C1785.2 1254.9 1796.7 959.7 1802.5 959.7C1807.6 959.7 1817.7 1191.4 1822.8 1204.1C1824.5 1208.4 1827.9 1211.9 1829.6 1215.0C1835.7 1226.2 1847.9 1272.5 1854.0 1272.5C1860.5 1272.5 1873.3 1096.4 1879.8 1096.4C1888.3 1096.4 1905.2 1341.7 1913.7 1341.7C1917.8 1341.7 1925.9 1228.0 1930.0 1228.0C1934.0 1228.0 1942.2 1306.4 1946.2 1306.4C1948.9 1306.4 1954.4 1225.3 1957.1 1225.3C1960.5 1225.3 1967.3 1273.9 1970.7 1273.9C1972.4 1273.9 1975.7 1247.0 1977.4 1247.0C1980.5 1247.0 1986.5 1287.4 1989.6 1287.4C1995.4 1287.4 2006.9 1180.5 2012.7 1180.5C2016.4 1180.5 2023.9 1303.7 2027.6 1303.7C2030.6 1303.7 2036.8 1295.8 2039.8 1295.8C2045.6 1295.8 2057.1 1387.8 2062.9 1387.8C2067.0 1387.8 2075.1 1299.8 2079.2 1299.8C2084.9 1299.8 2096.4 1401.3 2102.2 1401.3C2115.1 1401.3 2140.9 1053.0 2153.8 1053.0C2156.9 1053.0 2162.9 1214.1 2166.0 1220.4C2172.1 1233.0 2184.3 1237.2 2190.4 1244.8C2197.8 1254.1 2212.8 1295.6 2220.2 1295.6C2223.6 1295.6 2230.4 1283.6 2233.8 1283.6C2236.5 1283.6 2241.9 1341.7 2244.6 1341.7C2248.0 1341.7 2254.8 1215.8 2258.2 1215.8C2259.8 1215.8 2263.1 1217.2 2264.7 1217.7" fill="none" stroke="#EDB120" stroke-opacity="0.53" stroke-width="7.4" stroke-linejoin="round"/>
<path d="M215.0 1309.9C217.6 1292.1 222.7 1238.8 225.3 1238.8C231.4 1238.8 243.7 1374.2 249.8 1374.2C256.4 1374.2 269.5 1141.2 276.1 1141.2C278.7 1141.2 283.8 1248.1 286.4 1248.1C288.8 1248.1 293.5 1168.3 295.9 1168.3C299.9 1168.3 308.1 1271.1 312.1 1271.1C314.2 1271.1 318.2 1267.3 320.3 1267.3C322.3 1267.3 326.4 1272.5 328.4 1272.5C332.1 1272.5 339.6 1149.3 343.3 1149.3C349.1 1149.3 360.6 1264.4 366.4 1264.4C371.5 1264.4 381.6 1177.8 386.7 1177.8C389.4 1177.8 394.9 1245.4 397.6 1245.4C402.2 1245.4 411.4 1150.7 416.0 1150.7C419.4 1150.7 426.2 1305.1 429.6 1305.1C433.1 1305.1 440.2 1211.7 443.7 1211.7C445.1 1211.7 447.8 1216.9 449.1 1216.9C457.4 1216.9 473.9 1062.5 482.2 1062.5C490.9 1062.5 508.2 1352.5 516.9 1352.5C521.8 1352.5 531.6 1276.8 536.5 1276.8C539.8 1276.8 546.2 1309.1 549.5 1309.1C551.2 1309.1 554.6 1286.3 556.3 1286.3C559.0 1286.3 564.4 1366.1 567.1 1366.1C571.5 1366.1 580.3 1209.0 584.7 1209.0C588.1 1209.0 594.9 1260.3 598.3 1260.3C601.3 1260.3 607.5 1199.5 610.5 1199.5C617.1 1199.5 630.2 1333.5 636.8 1333.5C641.1 1333.5 649.6 1251.0 653.9 1251.0C656.3 1251.0 661.0 1255.0 663.4 1258.4C665.3 1261.1 669.1 1303.7 671.0 1303.7C674.9 1303.7 682.6 1137.1 686.5 1137.1C695.3 1137.1 712.9 1275.2 721.7 1275.2C724.8 1275.2 730.9 1166.9 733.9 1166.9C738.3 1166.9 747.2 1307.8 751.6 1307.8C757.1 1307.8 768.2 1053.0 773.7 1053.0C777.4 1053.0 784.9 1091.8 788.6 1106.5C792.3 1121.2 799.8 1153.7 803.5 1171.6C810.0 1202.5 822.8 1311.8 829.3 1311.8C835.0 1311.8 846.5 1261.9 852.3 1261.9C855.3 1261.9 861.5 1314.5 864.5 1314.5C866.2 1314.5 869.6 1297.1 871.3 1297.1C874.0 1297.1 879.5 1309.1 882.2 1309.1C885.2 1309.1 891.4 1290.4 894.4 1290.4C897.8 1290.4 904.5 1368.8 907.9 1368.8C912.3 1368.8 921.2 1283.6 925.6 1283.6C929.0 1283.6 935.7 1328.1 939.1 1328.1C944.9 1328.1 956.4 1270.0 962.2 1270.0C965.9 1270.0 973.4 1295.8 977.1 1304.5C980.5 1312.4 987.3 1336.2 990.7 1336.2C998.2 1336.2 1013.0 1229.8 1020.5 1209.5C1024.6 1198.4 1032.7 1175.1 1036.8 1175.1C1047.3 1175.1 1068.3 1352.5 1078.8 1352.5C1083.3 1352.5 1092.5 1282.2 1097.0 1282.2C1100.9 1282.2 1108.8 1357.9 1112.7 1357.9C1115.1 1357.9 1119.8 1328.3 1122.2 1328.3C1130.0 1328.3 1145.6 1387.8 1153.4 1387.8C1155.1 1387.8 1158.5 1371.7 1160.2 1371.7C1161.9 1371.7 1165.3 1404.1 1167.0 1404.1C1171.0 1404.1 1179.2 1343.2 1183.2 1343.2C1185.2 1343.2 1189.4 1347.1 1191.4 1347.1C1198.2 1347.1 1211.7 1183.2 1218.5 1183.2C1220.9 1183.2 1225.6 1216.9 1228.0 1216.9C1230.7 1216.9 1236.2 1188.6 1238.9 1188.6C1243.0 1188.6 1251.0 1309.1 1255.1 1309.1C1258.9 1309.1 1266.6 1218.5 1270.4 1218.5C1277.9 1218.5 1292.8 1310.5 1300.3 1310.5C1305.4 1310.5 1315.5 1180.5 1320.6 1180.5C1324.3 1180.5 1331.8 1254.9 1335.5 1254.9C1337.9 1254.9 1342.6 1164.2 1345.0 1164.2C1351.8 1164.2 1365.4 1339.7 1372.2 1339.7C1374.9 1339.7 1380.3 1339.7 1383.0 1339.7C1387.1 1339.7 1395.2 1378.3 1399.3 1378.3C1403.7 1378.3 1412.5 1282.2 1416.9 1282.2C1424.0 1282.2 1438.3 1332.9 1445.4 1337.0C1447.1 1338.0 1450.5 1338.5 1452.2 1339.7C1454.9 1341.5 1460.3 1382.4 1463.0 1382.4C1470.1 1382.4 1484.4 1218.5 1491.5 1218.5C1497.3 1218.5 1508.8 1325.4 1514.6 1325.4C1519.0 1325.4 1527.8 1280.9 1532.2 1280.9C1533.5 1280.9 1536.2 1316.8 1537.6 1320.8C1543.0 1337.1 1553.9 1355.2 1559.3 1355.2C1560.3 1355.2 1562.4 1299.8 1563.4 1299.8C1566.8 1299.8 1573.6 1409.5 1577.0 1409.5C1585.5 1409.5 1602.4 1001.5 1610.9 1001.5C1616.3 1001.5 1627.2 1295.6 1632.6 1295.6C1643.4 1295.6 1665.2 1230.7 1676.0 1230.7C1681.4 1230.7 1692.3 1347.1 1697.7 1347.1C1704.5 1347.1 1718.0 1089.6 1724.8 1089.6C1729.3 1089.6 1738.3 1166.8 1742.8 1171.6C1744.8 1173.8 1748.9 1175.0 1750.9 1177.0C1758.0 1183.9 1772.3 1254.9 1779.4 1254.9C1785.2 1254.9 1796.7 959.7 1802.5 959.7C1807.6 959.7 1817.7 1191.4 1822.8 1204.1C1824.5 1208.4 1827.9 1211.9 1829.6 1215.0C1835.7 1226.2 1847.9 1272.5 1854.0 1272.5C1860.5 1272.5 1873.3 1096.4 1879.8 1096.4C1888.3 1096.4 1905.2 1341.7 1913.7 1341.7C1917.8 1341.7 1925.9 1228.0 1930.0 1228.0C1934.0 1228.0 1942.2 1306.4 1946.2 1306.4C1948.9 1306.4 1954.4 1225.3 1957.1 1225.3C1960.5 1225.3 1967.3 1273.9 1970.7 1273.9C1972.4 1273.9 1975.7 1247.0 1977.4 1247.0C1980.5 1247.0 1986.5 1287.4 1989.6 1287.4C1995.4 1287.4 2006.9 1180.5 2012.7 1180.5C2016.4 1180.5 2023.9 1303.7 2027.6 1303.7C2030.6 1303.7 2036.8 1295.8 2039.8 1295.8C2045.6 1295.8 2057.1 1387.8 2062.9 1387.8C2067.0 1387.8 2075.1 1299.8 2079.2 1299.8C2084.9 1299.8 2096.4 1401.3 2102.2 1401.3C2115.1 1401.3 2140.9 1053.0 2153.8 1053.0C2156.9 1053.0 2162.9 1214.1 2166.0 1220.4C2172.1 1233.0 2184.3 1237.2 2190.4 1244.8C2197.8 1254.1 2212.8 1295.6 2220.2 1295.6C2223.6 1295.6 2230.4 1283.6 2233.8 1283.6C2236.5 1283.6 2241.9 1341.7 2244.6 1341.7C2248.0 1341.7 2254.8 1215.8 2258.2 1215.8C2259.8 1215.8 2263.1 1217.2 2264.7 1217.7" fill="none" stroke="#EDB120" stroke-width="12" stroke-dasharray="38 40" stroke-dashoffset="14" stroke-linejoin="round"/>
<path d="M215.0 823.4C215.9 850.5 217.7 911.8 218.6 931.9C220.3 969.4 223.6 1046.0 225.3 1046.0C227.7 1046.0 232.4 1038.1 234.8 1038.1C239.2 1038.1 248.1 1211.5 252.5 1211.5C262.3 1211.5 282.0 987.9 291.8 926.4C294.9 907.3 300.9 856.7 304.0 856.7C306.4 856.7 311.1 1092.1 313.5 1092.1C315.5 1092.1 319.6 1053.0 321.6 1053.0C324.3 1053.0 329.8 1081.3 332.5 1081.3C335.2 1081.3 340.6 990.5 343.3 926.4C344.0 910.4 345.3 825.8 346.0 812.5C347.7 778.9 351.1 763.4 352.8 733.9C353.5 722.2 354.8 658.7 355.5 658.7C356.5 658.7 358.6 696.4 359.6 714.9C360.6 733.4 362.7 799.8 363.7 823.4C364.7 846.4 366.7 901.1 367.7 904.7C370.4 914.4 375.9 922.9 378.6 922.9C380.6 922.9 384.7 894.7 386.7 894.7C388.8 894.7 392.8 1195.2 394.9 1195.2C401.0 1195.2 413.2 805.2 419.3 805.2C423.4 805.2 431.5 1170.8 435.6 1170.8C441.4 1170.8 452.9 1021.5 458.6 904.7C459.6 883.9 461.7 769.9 462.7 747.4C463.7 724.9 465.8 684.5 466.8 684.5C468.5 684.5 471.8 769.7 473.5 788.1C476.2 818.1 481.7 846.5 484.4 877.6C488.5 924.1 496.6 1212.8 500.7 1212.8C508.1 1212.8 523.0 783.5 530.5 783.5C539.3 783.5 557.0 1173.5 565.8 1173.5C572.4 1173.5 585.7 774.0 592.3 774.0C593.8 774.0 596.8 833.4 598.3 833.4C600.2 833.4 604.0 826.9 605.9 826.9C614.5 826.9 631.8 1203.3 640.4 1203.3C649.5 1203.3 667.9 746.9 677.0 746.9C685.1 746.9 701.4 1037.9 709.5 1037.9C710.7 1037.9 713.2 969.7 714.4 931.9C715.5 896.4 717.9 719.1 719.0 687.7C722.0 606.3 727.9 490.8 730.9 490.8C732.3 490.8 735.2 590.4 736.6 619.9C737.6 641.1 739.7 679.3 740.7 698.6C741.7 717.9 743.8 750.9 744.8 774.5C745.5 790.0 746.8 838.3 747.5 853.2C749.5 897.8 753.6 956.8 755.6 986.1C758.4 1026.9 764.1 1130.1 766.9 1130.1C772.0 1130.1 782.1 1001.5 787.2 1001.5C791.3 1001.5 799.4 1122.0 803.5 1122.0C807.0 1122.0 814.1 970.8 817.6 869.5C818.5 844.4 820.2 725.9 821.1 701.3C822.6 659.2 825.6 588.7 827.1 588.7C828.5 588.7 831.4 707.7 832.8 742.0C835.0 794.3 839.3 928.4 841.5 928.4C845.4 928.4 853.3 830.9 857.2 830.9C868.5 830.9 891.2 1268.4 902.5 1268.4C907.2 1268.4 916.8 840.4 921.5 840.4C924.5 840.4 930.7 1119.2 933.7 1119.2C937.8 1119.2 945.9 908.2 950.0 908.2C958.8 908.2 976.4 1257.6 985.2 1257.6C988.2 1257.6 994.4 897.4 997.4 897.4C999.8 897.4 1004.5 944.6 1006.9 944.6C1009.0 944.6 1013.0 916.4 1015.1 916.4C1018.8 916.4 1026.3 1272.5 1030.0 1272.5C1034.4 1272.5 1043.2 1034.0 1047.6 1034.0C1050.3 1034.0 1055.8 1157.2 1058.5 1157.2C1067.1 1157.2 1084.3 1042.6 1092.9 900.7C1093.7 888.3 1095.2 774.6 1095.9 744.7C1096.5 720.8 1097.7 681.8 1098.3 666.0C1099.2 642.3 1101.0 611.5 1101.9 588.7C1102.7 569.0 1104.2 493.5 1105.0 493.5C1106.1 493.5 1108.4 548.1 1109.5 571.1C1110.3 587.5 1111.9 628.4 1112.7 649.8C1113.4 667.8 1114.7 709.1 1115.4 728.4C1116.1 747.7 1117.4 788.5 1118.1 804.4C1119.1 828.6 1121.2 868.6 1122.2 885.8C1123.2 903.0 1125.3 929.5 1126.3 945.4C1131.2 1021.1 1140.9 1284.7 1145.8 1284.7C1155.7 1284.7 1175.5 679.0 1185.4 679.0C1186.6 679.0 1188.8 731.4 1190.0 750.1C1191.2 768.8 1193.4 813.2 1194.6 828.8C1199.9 900.6 1210.5 1046.0 1215.8 1046.0C1217.3 1046.0 1220.3 849.9 1221.8 785.4C1222.9 739.2 1225.0 602.3 1226.1 602.3C1227.9 602.3 1231.6 657.1 1233.4 657.1C1235.5 657.1 1239.5 567.8 1241.6 567.8C1242.5 567.8 1244.2 652.3 1245.1 682.3C1245.6 701.2 1246.8 745.6 1247.3 761.0C1251.6 881.9 1260.3 1113.8 1264.6 1113.8C1269.0 1113.8 1277.9 862.1 1282.3 862.1C1290.2 862.1 1305.9 1233.2 1313.8 1233.2C1316.5 1233.2 1322.0 1088.3 1324.7 1088.3C1326.4 1088.3 1329.8 1146.4 1331.5 1146.4C1341.2 1146.4 1360.6 1023.4 1370.3 891.2C1370.9 883.0 1372.1 836.4 1372.7 812.5C1373.2 790.6 1374.4 702.1 1374.9 702.1C1376.4 702.1 1379.3 756.5 1380.8 796.2C1381.3 811.0 1382.5 898.6 1383.0 915.6C1387.1 1041.4 1395.2 1207.4 1399.3 1207.4C1403.4 1207.4 1411.5 1165.6 1415.6 1165.6C1417.6 1165.6 1421.7 1227.7 1423.7 1227.7C1429.1 1227.7 1440.0 1214.4 1445.4 1214.4C1450.2 1214.4 1459.7 1288.8 1464.4 1288.8C1467.1 1288.8 1472.5 1194.1 1475.2 1194.1C1477.2 1194.1 1481.4 1216.9 1483.4 1216.9C1486.5 1216.9 1492.5 1195.4 1495.6 1195.4C1497.6 1195.4 1501.7 1216.9 1503.7 1216.9C1506.4 1216.9 1511.9 1072.0 1514.6 1072.0C1517.0 1072.0 1521.7 1146.4 1524.1 1146.4C1528.5 1146.4 1537.3 896.6 1541.7 845.1C1543.7 821.4 1547.8 798.6 1549.8 769.1C1551.3 747.3 1554.3 595.0 1555.8 595.0C1556.9 595.0 1559.0 700.0 1560.1 750.1C1560.7 779.3 1562.0 879.3 1562.6 904.7C1563.8 954.6 1566.3 1044.7 1567.5 1044.7C1572.9 1044.7 1583.8 830.9 1589.2 830.9C1591.2 830.9 1595.3 928.4 1597.3 928.4C1602.4 928.4 1612.5 715.7 1617.6 715.7C1621.3 715.7 1628.8 1037.9 1632.6 1037.9C1636.3 1037.9 1643.8 890.6 1647.5 890.6C1653.9 890.6 1666.8 1146.4 1673.2 1146.4C1680.3 1146.4 1694.6 946.2 1701.7 946.2C1704.4 946.2 1709.9 1132.8 1712.6 1132.8C1716.0 1132.8 1722.7 931.3 1726.1 931.3C1729.1 931.3 1735.2 1118.5 1738.3 1122.7C1740.8 1126.1 1745.7 1130.1 1748.2 1130.1C1752.3 1130.1 1760.4 1044.9 1764.5 1044.9C1771.3 1044.9 1784.8 1263.0 1791.6 1263.0C1794.3 1263.0 1799.8 1207.6 1802.5 1207.6C1805.5 1207.6 1811.7 1306.4 1814.7 1306.4C1822.2 1306.4 1837.0 1039.4 1844.5 1039.4C1848.2 1039.4 1855.7 1265.7 1859.4 1265.7C1862.1 1265.7 1867.6 1162.8 1870.3 1133.6C1872.3 1111.9 1876.4 1089.2 1878.4 1054.9C1879.6 1034.1 1882.1 863.3 1883.3 828.8C1884.2 802.1 1886.1 772.2 1887.1 750.1C1887.8 732.7 1889.3 688.3 1890.1 671.5C1891.1 648.6 1893.2 611.5 1894.2 592.8C1897.9 525.2 1905.3 340.5 1909.0 340.5C1911.2 340.5 1915.6 496.2 1917.8 579.2C1918.5 607.5 1920.0 706.9 1920.8 736.6C1921.4 760.3 1922.6 797.2 1923.2 813.9C1923.9 832.6 1925.2 879.5 1925.9 879.5C1927.6 879.5 1931.0 801.1 1932.7 782.7C1935.1 756.9 1939.8 721.5 1942.2 701.3C1944.1 685.1 1947.9 637.0 1949.8 637.0C1952.0 637.0 1956.3 669.9 1958.5 687.7C1959.8 698.8 1962.6 736.1 1963.9 755.6C1965.2 775.1 1968.0 847.0 1969.3 847.0C1972.0 847.0 1977.5 798.4 1980.2 798.4C1986.3 798.4 1998.5 1092.1 2004.6 1092.1C2009.7 1092.1 2019.8 1006.9 2024.9 1006.9C2032.3 1006.9 2047.2 1214.2 2054.7 1214.2C2057.4 1214.2 2062.9 845.9 2065.6 845.9C2068.3 845.9 2073.7 1051.4 2076.4 1051.4C2081.5 1051.4 2091.7 824.2 2096.8 824.2C2104.6 824.2 2120.2 1094.8 2128.0 1094.8C2132.4 1094.8 2141.2 863.5 2145.6 863.5C2149.3 863.5 2156.8 1140.0 2160.5 1140.9C2163.9 1141.7 2170.7 1141.7 2174.1 1142.5C2177.2 1143.2 2183.2 1221.0 2186.3 1221.0C2191.7 1221.0 2202.6 1112.7 2208.0 1112.7C2210.7 1112.7 2216.2 1172.1 2218.9 1172.1C2222.8 1172.1 2230.5 948.2 2234.3 923.7C2236.6 909.4 2241.1 901.9 2243.3 885.8C2245.3 871.3 2249.4 704.8 2251.4 704.8C2252.4 704.8 2254.5 749.4 2255.5 763.7C2256.8 782.6 2259.6 828.4 2260.9 836.9C2261.8 842.9 2263.8 849.1 2264.7 853.2" fill="none" stroke="#7E2F8E" stroke-opacity="0.53" stroke-width="7.4" stroke-linejoin="round"/>
<path d="M215.0 823.4C215.9 850.5 217.7 911.8 218.6 931.9C220.3 969.4 223.6 1046.0 225.3 1046.0C227.7 1046.0 232.4 1038.1 234.8 1038.1C239.2 1038.1 248.1 1211.5 252.5 1211.5C262.3 1211.5 282.0 987.9 291.8 926.4C294.9 907.3 300.9 856.7 304.0 856.7C306.4 856.7 311.1 1092.1 313.5 1092.1C315.5 1092.1 319.6 1053.0 321.6 1053.0C324.3 1053.0 329.8 1081.3 332.5 1081.3C335.2 1081.3 340.6 990.5 343.3 926.4C344.0 910.4 345.3 825.8 346.0 812.5C347.7 778.9 351.1 763.4 352.8 733.9C353.5 722.2 354.8 658.7 355.5 658.7C356.5 658.7 358.6 696.4 359.6 714.9C360.6 733.4 362.7 799.8 363.7 823.4C364.7 846.4 366.7 901.1 367.7 904.7C370.4 914.4 375.9 922.9 378.6 922.9C380.6 922.9 384.7 894.7 386.7 894.7C388.8 894.7 392.8 1195.2 394.9 1195.2C401.0 1195.2 413.2 805.2 419.3 805.2C423.4 805.2 431.5 1170.8 435.6 1170.8C441.4 1170.8 452.9 1021.5 458.6 904.7C459.6 883.9 461.7 769.9 462.7 747.4C463.7 724.9 465.8 684.5 466.8 684.5C468.5 684.5 471.8 769.7 473.5 788.1C476.2 818.1 481.7 846.5 484.4 877.6C488.5 924.1 496.6 1212.8 500.7 1212.8C508.1 1212.8 523.0 783.5 530.5 783.5C539.3 783.5 557.0 1173.5 565.8 1173.5C572.4 1173.5 585.7 774.0 592.3 774.0C593.8 774.0 596.8 833.4 598.3 833.4C600.2 833.4 604.0 826.9 605.9 826.9C614.5 826.9 631.8 1203.3 640.4 1203.3C649.5 1203.3 667.9 746.9 677.0 746.9C685.1 746.9 701.4 1037.9 709.5 1037.9C710.7 1037.9 713.2 969.7 714.4 931.9C715.5 896.4 717.9 719.1 719.0 687.7C722.0 606.3 727.9 490.8 730.9 490.8C732.3 490.8 735.2 590.4 736.6 619.9C737.6 641.1 739.7 679.3 740.7 698.6C741.7 717.9 743.8 750.9 744.8 774.5C745.5 790.0 746.8 838.3 747.5 853.2C749.5 897.8 753.6 956.8 755.6 986.1C758.4 1026.9 764.1 1130.1 766.9 1130.1C772.0 1130.1 782.1 1001.5 787.2 1001.5C791.3 1001.5 799.4 1122.0 803.5 1122.0C807.0 1122.0 814.1 970.8 817.6 869.5C818.5 844.4 820.2 725.9 821.1 701.3C822.6 659.2 825.6 588.7 827.1 588.7C828.5 588.7 831.4 707.7 832.8 742.0C835.0 794.3 839.3 928.4 841.5 928.4C845.4 928.4 853.3 830.9 857.2 830.9C868.5 830.9 891.2 1268.4 902.5 1268.4C907.2 1268.4 916.8 840.4 921.5 840.4C924.5 840.4 930.7 1119.2 933.7 1119.2C937.8 1119.2 945.9 908.2 950.0 908.2C958.8 908.2 976.4 1257.6 985.2 1257.6C988.2 1257.6 994.4 897.4 997.4 897.4C999.8 897.4 1004.5 944.6 1006.9 944.6C1009.0 944.6 1013.0 916.4 1015.1 916.4C1018.8 916.4 1026.3 1272.5 1030.0 1272.5C1034.4 1272.5 1043.2 1034.0 1047.6 1034.0C1050.3 1034.0 1055.8 1157.2 1058.5 1157.2C1067.1 1157.2 1084.3 1042.6 1092.9 900.7C1093.7 888.3 1095.2 774.6 1095.9 744.7C1096.5 720.8 1097.7 681.8 1098.3 666.0C1099.2 642.3 1101.0 611.5 1101.9 588.7C1102.7 569.0 1104.2 493.5 1105.0 493.5C1106.1 493.5 1108.4 548.1 1109.5 571.1C1110.3 587.5 1111.9 628.4 1112.7 649.8C1113.4 667.8 1114.7 709.1 1115.4 728.4C1116.1 747.7 1117.4 788.5 1118.1 804.4C1119.1 828.6 1121.2 868.6 1122.2 885.8C1123.2 903.0 1125.3 929.5 1126.3 945.4C1131.2 1021.1 1140.9 1284.7 1145.8 1284.7C1155.7 1284.7 1175.5 679.0 1185.4 679.0C1186.6 679.0 1188.8 731.4 1190.0 750.1C1191.2 768.8 1193.4 813.2 1194.6 828.8C1199.9 900.6 1210.5 1046.0 1215.8 1046.0C1217.3 1046.0 1220.3 849.9 1221.8 785.4C1222.9 739.2 1225.0 602.3 1226.1 602.3C1227.9 602.3 1231.6 657.1 1233.4 657.1C1235.5 657.1 1239.5 567.8 1241.6 567.8C1242.5 567.8 1244.2 652.3 1245.1 682.3C1245.6 701.2 1246.8 745.6 1247.3 761.0C1251.6 881.9 1260.3 1113.8 1264.6 1113.8C1269.0 1113.8 1277.9 862.1 1282.3 862.1C1290.2 862.1 1305.9 1233.2 1313.8 1233.2C1316.5 1233.2 1322.0 1088.3 1324.7 1088.3C1326.4 1088.3 1329.8 1146.4 1331.5 1146.4C1341.2 1146.4 1360.6 1023.4 1370.3 891.2C1370.9 883.0 1372.1 836.4 1372.7 812.5C1373.2 790.6 1374.4 702.1 1374.9 702.1C1376.4 702.1 1379.3 756.5 1380.8 796.2C1381.3 811.0 1382.5 898.6 1383.0 915.6C1387.1 1041.4 1395.2 1207.4 1399.3 1207.4C1403.4 1207.4 1411.5 1165.6 1415.6 1165.6C1417.6 1165.6 1421.7 1227.7 1423.7 1227.7C1429.1 1227.7 1440.0 1214.4 1445.4 1214.4C1450.2 1214.4 1459.7 1288.8 1464.4 1288.8C1467.1 1288.8 1472.5 1194.1 1475.2 1194.1C1477.2 1194.1 1481.4 1216.9 1483.4 1216.9C1486.5 1216.9 1492.5 1195.4 1495.6 1195.4C1497.6 1195.4 1501.7 1216.9 1503.7 1216.9C1506.4 1216.9 1511.9 1072.0 1514.6 1072.0C1517.0 1072.0 1521.7 1146.4 1524.1 1146.4C1528.5 1146.4 1537.3 896.6 1541.7 845.1C1543.7 821.4 1547.8 798.6 1549.8 769.1C1551.3 747.3 1554.3 595.0 1555.8 595.0C1556.9 595.0 1559.0 700.0 1560.1 750.1C1560.7 779.3 1562.0 879.3 1562.6 904.7C1563.8 954.6 1566.3 1044.7 1567.5 1044.7C1572.9 1044.7 1583.8 830.9 1589.2 830.9C1591.2 830.9 1595.3 928.4 1597.3 928.4C1602.4 928.4 1612.5 715.7 1617.6 715.7C1621.3 715.7 1628.8 1037.9 1632.6 1037.9C1636.3 1037.9 1643.8 890.6 1647.5 890.6C1653.9 890.6 1666.8 1146.4 1673.2 1146.4C1680.3 1146.4 1694.6 946.2 1701.7 946.2C1704.4 946.2 1709.9 1132.8 1712.6 1132.8C1716.0 1132.8 1722.7 931.3 1726.1 931.3C1729.1 931.3 1735.2 1118.5 1738.3 1122.7C1740.8 1126.1 1745.7 1130.1 1748.2 1130.1C1752.3 1130.1 1760.4 1044.9 1764.5 1044.9C1771.3 1044.9 1784.8 1263.0 1791.6 1263.0C1794.3 1263.0 1799.8 1207.6 1802.5 1207.6C1805.5 1207.6 1811.7 1306.4 1814.7 1306.4C1822.2 1306.4 1837.0 1039.4 1844.5 1039.4C1848.2 1039.4 1855.7 1265.7 1859.4 1265.7C1862.1 1265.7 1867.6 1162.8 1870.3 1133.6C1872.3 1111.9 1876.4 1089.2 1878.4 1054.9C1879.6 1034.1 1882.1 863.3 1883.3 828.8C1884.2 802.1 1886.1 772.2 1887.1 750.1C1887.8 732.7 1889.3 688.3 1890.1 671.5C1891.1 648.6 1893.2 611.5 1894.2 592.8C1897.9 525.2 1905.3 340.5 1909.0 340.5C1911.2 340.5 1915.6 496.2 1917.8 579.2C1918.5 607.5 1920.0 706.9 1920.8 736.6C1921.4 760.3 1922.6 797.2 1923.2 813.9C1923.9 832.6 1925.2 879.5 1925.9 879.5C1927.6 879.5 1931.0 801.1 1932.7 782.7C1935.1 756.9 1939.8 721.5 1942.2 701.3C1944.1 685.1 1947.9 637.0 1949.8 637.0C1952.0 637.0 1956.3 669.9 1958.5 687.7C1959.8 698.8 1962.6 736.1 1963.9 755.6C1965.2 775.1 1968.0 847.0 1969.3 847.0C1972.0 847.0 1977.5 798.4 1980.2 798.4C1986.3 798.4 1998.5 1092.1 2004.6 1092.1C2009.7 1092.1 2019.8 1006.9 2024.9 1006.9C2032.3 1006.9 2047.2 1214.2 2054.7 1214.2C2057.4 1214.2 2062.9 845.9 2065.6 845.9C2068.3 845.9 2073.7 1051.4 2076.4 1051.4C2081.5 1051.4 2091.7 824.2 2096.8 824.2C2104.6 824.2 2120.2 1094.8 2128.0 1094.8C2132.4 1094.8 2141.2 863.5 2145.6 863.5C2149.3 863.5 2156.8 1140.0 2160.5 1140.9C2163.9 1141.7 2170.7 1141.7 2174.1 1142.5C2177.2 1143.2 2183.2 1221.0 2186.3 1221.0C2191.7 1221.0 2202.6 1112.7 2208.0 1112.7C2210.7 1112.7 2216.2 1172.1 2218.9 1172.1C2222.8 1172.1 2230.5 948.2 2234.3 923.7C2236.6 909.4 2241.1 901.9 2243.3 885.8C2245.3 871.3 2249.4 704.8 2251.4 704.8C2252.4 704.8 2254.5 749.4 2255.5 763.7C2256.8 782.6 2259.6 828.4 2260.9 836.9C2261.8 842.9 2263.8 849.1 2264.7 853.2" fill="none" stroke="#7E2F8E" stroke-width="12" stroke-dasharray="38 40" stroke-dashoffset="0" stroke-linejoin="round"/>
<path d="M215.0 987.1C216.6 1009.5 219.7 1057.5 221.3 1076.6C224.0 1109.3 229.4 1170.7 232.1 1187.8C237.9 1224.4 249.4 1286.1 255.2 1286.1C260.6 1286.1 271.5 913.7 276.9 913.7C284.5 913.7 299.9 1166.7 307.5 1166.7C311.7 1166.7 320.1 1099.1 324.3 1099.1C329.1 1099.1 338.6 1264.4 343.3 1264.4C351.3 1264.4 367.3 986.6 375.3 986.6C383.2 986.6 399.2 1180.3 407.1 1180.3C412.2 1180.3 422.3 921.8 427.4 921.8C434.5 921.8 448.8 1173.5 455.9 1173.5C457.2 1173.5 459.9 1153.4 461.3 1153.4C462.7 1153.4 465.4 1208.8 466.8 1208.8C468.5 1208.8 471.8 1184.6 473.5 1184.6C474.9 1184.6 477.6 1206.0 479.0 1206.0C483.5 1206.0 492.5 1180.7 497.0 1160.0C499.0 1150.8 503.0 1089.4 505.0 1063.0C507.2 1033.3 511.8 978.5 514.0 932.0C515.9 893.8 519.5 743.4 521.4 680.0C522.5 644.0 524.5 535.1 525.6 535.1C526.8 535.1 529.3 667.4 530.5 700.0C531.9 736.6 534.6 805.7 536.0 820.0C537.7 837.4 541.0 864.6 542.7 864.6C545.8 864.6 551.9 759.1 554.9 759.1C561.4 759.1 574.2 1132.8 580.7 1132.8C585.1 1132.8 593.9 1042.2 598.3 1042.2C602.4 1042.2 610.5 1197.9 614.6 1197.9C617.0 1197.9 621.7 1153.4 624.1 1153.4C627.8 1153.4 635.3 1254.9 639.0 1254.9C642.4 1254.9 649.2 1234.7 652.6 1234.7C655.6 1234.7 661.8 1310.5 664.8 1310.5C669.2 1310.5 678.0 1204.3 682.4 1177.0C687.6 1144.9 697.9 1069.3 703.1 1069.3C709.5 1069.3 722.5 1214.2 728.9 1214.2C730.2 1214.2 732.9 1194.1 734.3 1194.1C743.1 1194.1 760.8 1309.1 769.6 1309.1C779.4 1309.1 799.1 1076.1 808.9 1076.1C817.0 1076.1 833.4 1238.6 841.5 1238.6C843.2 1238.6 846.6 1171.0 848.3 1171.0C852.7 1171.0 861.5 1303.7 865.9 1303.7C867.9 1303.7 872.0 1259.8 874.0 1244.8C877.0 1222.2 883.2 1193.3 886.2 1152.6C887.4 1137.3 889.6 1029.3 890.8 1011.5C892.8 979.7 897.0 966.1 899.0 931.9C900.0 915.2 902.0 801.7 903.0 777.3C904.0 752.3 906.1 704.3 907.1 704.3C913.8 704.3 927.1 895.8 933.7 895.8C938.2 895.8 947.4 727.9 951.9 727.9C965.6 727.9 993.1 1216.9 1006.9 1216.9C1013.4 1216.9 1026.2 1057.1 1032.7 1057.1C1038.8 1057.1 1051.0 1208.8 1057.1 1208.8C1065.6 1208.8 1082.5 1063.9 1091.0 1063.9C1096.4 1063.9 1107.3 1178.9 1112.7 1178.9C1117.5 1178.9 1127.0 1107.3 1131.7 1107.3C1135.4 1107.3 1142.9 1204.7 1146.6 1204.7C1155.1 1204.7 1172.0 908.2 1180.5 908.2C1188.0 908.2 1202.9 1189.8 1210.4 1189.8C1212.4 1189.8 1216.5 1153.4 1218.5 1153.4C1222.6 1153.4 1230.7 1170.8 1234.8 1170.8C1236.8 1170.8 1240.9 1053.0 1242.9 1053.0C1247.7 1053.0 1257.2 1292.8 1261.9 1292.8C1266.1 1292.8 1274.4 1290.4 1278.6 1288.2C1283.7 1285.5 1293.8 867.6 1298.9 867.6C1306.4 867.6 1321.3 1065.0 1328.8 1065.0C1334.9 1065.0 1347.1 807.9 1353.2 807.9C1358.6 807.9 1369.5 1146.4 1374.9 1146.4C1377.6 1146.4 1383.0 951.6 1385.7 951.6C1397.6 951.6 1421.3 1292.8 1433.2 1292.8C1439.7 1292.8 1452.5 1115.4 1459.0 1115.4C1460.3 1115.4 1463.1 1119.2 1464.4 1119.2C1466.1 1119.2 1469.5 1035.4 1471.2 1035.4C1472.9 1035.4 1476.2 1051.4 1477.9 1051.4C1480.0 1051.4 1484.0 990.6 1486.1 990.6C1493.2 990.6 1507.5 1271.1 1514.6 1271.1C1521.7 1271.1 1535.9 940.8 1543.0 940.8C1552.8 940.8 1572.6 1322.7 1582.4 1322.7C1587.8 1322.7 1598.7 1077.4 1604.1 1077.4C1609.2 1077.4 1619.3 1252.2 1624.4 1252.2C1631.9 1252.2 1646.8 1228.3 1654.3 1217.7C1656.3 1214.8 1660.4 1209.3 1662.4 1204.1C1667.5 1191.2 1677.6 1036.7 1682.7 1036.7C1687.8 1036.7 1698.0 1173.5 1703.1 1173.5C1705.8 1173.5 1711.2 1164.2 1713.9 1164.2C1719.7 1164.2 1731.2 1303.7 1737.0 1303.7C1744.8 1303.7 1760.4 1104.5 1768.2 1104.5C1770.7 1104.5 1775.6 1146.4 1778.1 1146.4C1781.5 1146.4 1788.2 1105.9 1791.6 1105.9C1793.6 1105.9 1797.8 1108.4 1799.8 1108.4C1802.2 1108.4 1806.9 1044.9 1809.3 1044.9C1819.8 1044.9 1840.8 1200.6 1851.3 1200.6C1852.7 1200.6 1855.3 1196.8 1856.7 1196.8C1860.8 1196.8 1868.9 1306.4 1873.0 1306.4C1879.1 1306.4 1891.3 809.2 1897.4 809.2C1905.2 809.2 1920.8 1202.0 1928.6 1202.0C1932.3 1202.0 1939.8 1104.5 1943.5 1104.5C1945.5 1104.5 1949.7 1130.1 1951.7 1130.1C1955.8 1130.1 1963.9 1101.8 1967.9 1101.8C1971.3 1101.8 1978.1 1181.6 1981.5 1181.6C1985.2 1181.6 1992.7 997.4 1996.4 997.4C2002.5 997.4 2014.7 1241.3 2020.8 1241.3C2024.9 1241.3 2033.0 1158.8 2037.1 1158.8C2042.9 1158.8 2054.4 1317.3 2060.2 1317.3C2063.6 1317.3 2070.3 1308.0 2073.7 1308.0C2075.1 1308.0 2077.8 1309.1 2079.2 1309.1C2082.9 1309.1 2090.4 1199.5 2094.1 1199.5C2096.1 1199.5 2100.2 1280.6 2102.2 1280.6C2105.2 1280.6 2111.3 1080.1 2114.4 1080.1C2122.6 1080.1 2138.8 1288.5 2147.0 1298.3C2148.3 1299.9 2151.1 1301.0 2152.4 1302.6C2156.5 1307.5 2164.6 1375.6 2168.7 1375.6C2178.5 1375.6 2198.2 874.3 2208.0 874.3C2213.1 874.3 2223.2 1219.8 2228.3 1222.3C2229.7 1223.0 2232.4 1223.3 2233.8 1223.9C2236.5 1225.1 2241.9 1241.3 2244.6 1241.3C2246.7 1241.3 2250.8 1221.2 2252.8 1221.2C2255.8 1221.2 2261.7 1275.5 2264.7 1293.6" fill="none" stroke="#77AC30" stroke-opacity="0.53" stroke-width="7.4" stroke-linejoin="round"/>
<path d="M215.0 987.1C216.6 1009.5 219.7 1057.5 221.3 1076.6C224.0 1109.3 229.4 1170.7 232.1 1187.8C237.9 1224.4 249.4 1286.1 255.2 1286.1C260.6 1286.1 271.5 913.7 276.9 913.7C284.5 913.7 299.9 1166.7 307.5 1166.7C311.7 1166.7 320.1 1099.1 324.3 1099.1C329.1 1099.1 338.6 1264.4 343.3 1264.4C351.3 1264.4 367.3 986.6 375.3 986.6C383.2 986.6 399.2 1180.3 407.1 1180.3C412.2 1180.3 422.3 921.8 427.4 921.8C434.5 921.8 448.8 1173.5 455.9 1173.5C457.2 1173.5 459.9 1153.4 461.3 1153.4C462.7 1153.4 465.4 1208.8 466.8 1208.8C468.5 1208.8 471.8 1184.6 473.5 1184.6C474.9 1184.6 477.6 1206.0 479.0 1206.0C483.5 1206.0 492.5 1180.7 497.0 1160.0C499.0 1150.8 503.0 1089.4 505.0 1063.0C507.2 1033.3 511.8 978.5 514.0 932.0C515.9 893.8 519.5 743.4 521.4 680.0C522.5 644.0 524.5 535.1 525.6 535.1C526.8 535.1 529.3 667.4 530.5 700.0C531.9 736.6 534.6 805.7 536.0 820.0C537.7 837.4 541.0 864.6 542.7 864.6C545.8 864.6 551.9 759.1 554.9 759.1C561.4 759.1 574.2 1132.8 580.7 1132.8C585.1 1132.8 593.9 1042.2 598.3 1042.2C602.4 1042.2 610.5 1197.9 614.6 1197.9C617.0 1197.9 621.7 1153.4 624.1 1153.4C627.8 1153.4 635.3 1254.9 639.0 1254.9C642.4 1254.9 649.2 1234.7 652.6 1234.7C655.6 1234.7 661.8 1310.5 664.8 1310.5C669.2 1310.5 678.0 1204.3 682.4 1177.0C687.6 1144.9 697.9 1069.3 703.1 1069.3C709.5 1069.3 722.5 1214.2 728.9 1214.2C730.2 1214.2 732.9 1194.1 734.3 1194.1C743.1 1194.1 760.8 1309.1 769.6 1309.1C779.4 1309.1 799.1 1076.1 808.9 1076.1C817.0 1076.1 833.4 1238.6 841.5 1238.6C843.2 1238.6 846.6 1171.0 848.3 1171.0C852.7 1171.0 861.5 1303.7 865.9 1303.7C867.9 1303.7 872.0 1259.8 874.0 1244.8C877.0 1222.2 883.2 1193.3 886.2 1152.6C887.4 1137.3 889.6 1029.3 890.8 1011.5C892.8 979.7 897.0 966.1 899.0 931.9C900.0 915.2 902.0 801.7 903.0 777.3C904.0 752.3 906.1 704.3 907.1 704.3C913.8 704.3 927.1 895.8 933.7 895.8C938.2 895.8 947.4 727.9 951.9 727.9C965.6 727.9 993.1 1216.9 1006.9 1216.9C1013.4 1216.9 1026.2 1057.1 1032.7 1057.1C1038.8 1057.1 1051.0 1208.8 1057.1 1208.8C1065.6 1208.8 1082.5 1063.9 1091.0 1063.9C1096.4 1063.9 1107.3 1178.9 1112.7 1178.9C1117.5 1178.9 1127.0 1107.3 1131.7 1107.3C1135.4 1107.3 1142.9 1204.7 1146.6 1204.7C1155.1 1204.7 1172.0 908.2 1180.5 908.2C1188.0 908.2 1202.9 1189.8 1210.4 1189.8C1212.4 1189.8 1216.5 1153.4 1218.5 1153.4C1222.6 1153.4 1230.7 1170.8 1234.8 1170.8C1236.8 1170.8 1240.9 1053.0 1242.9 1053.0C1247.7 1053.0 1257.2 1292.8 1261.9 1292.8C1266.1 1292.8 1274.4 1290.4 1278.6 1288.2C1283.7 1285.5 1293.8 867.6 1298.9 867.6C1306.4 867.6 1321.3 1065.0 1328.8 1065.0C1334.9 1065.0 1347.1 807.9 1353.2 807.9C1358.6 807.9 1369.5 1146.4 1374.9 1146.4C1377.6 1146.4 1383.0 951.6 1385.7 951.6C1397.6 951.6 1421.3 1292.8 1433.2 1292.8C1439.7 1292.8 1452.5 1115.4 1459.0 1115.4C1460.3 1115.4 1463.1 1119.2 1464.4 1119.2C1466.1 1119.2 1469.5 1035.4 1471.2 1035.4C1472.9 1035.4 1476.2 1051.4 1477.9 1051.4C1480.0 1051.4 1484.0 990.6 1486.1 990.6C1493.2 990.6 1507.5 1271.1 1514.6 1271.1C1521.7 1271.1 1535.9 940.8 1543.0 940.8C1552.8 940.8 1572.6 1322.7 1582.4 1322.7C1587.8 1322.7 1598.7 1077.4 1604.1 1077.4C1609.2 1077.4 1619.3 1252.2 1624.4 1252.2C1631.9 1252.2 1646.8 1228.3 1654.3 1217.7C1656.3 1214.8 1660.4 1209.3 1662.4 1204.1C1667.5 1191.2 1677.6 1036.7 1682.7 1036.7C1687.8 1036.7 1698.0 1173.5 1703.1 1173.5C1705.8 1173.5 1711.2 1164.2 1713.9 1164.2C1719.7 1164.2 1731.2 1303.7 1737.0 1303.7C1744.8 1303.7 1760.4 1104.5 1768.2 1104.5C1770.7 1104.5 1775.6 1146.4 1778.1 1146.4C1781.5 1146.4 1788.2 1105.9 1791.6 1105.9C1793.6 1105.9 1797.8 1108.4 1799.8 1108.4C1802.2 1108.4 1806.9 1044.9 1809.3 1044.9C1819.8 1044.9 1840.8 1200.6 1851.3 1200.6C1852.7 1200.6 1855.3 1196.8 1856.7 1196.8C1860.8 1196.8 1868.9 1306.4 1873.0 1306.4C1879.1 1306.4 1891.3 809.2 1897.4 809.2C1905.2 809.2 1920.8 1202.0 1928.6 1202.0C1932.3 1202.0 1939.8 1104.5 1943.5 1104.5C1945.5 1104.5 1949.7 1130.1 1951.7 1130.1C1955.8 1130.1 1963.9 1101.8 1967.9 1101.8C1971.3 1101.8 1978.1 1181.6 1981.5 1181.6C1985.2 1181.6 1992.7 997.4 1996.4 997.4C2002.5 997.4 2014.7 1241.3 2020.8 1241.3C2024.9 1241.3 2033.0 1158.8 2037.1 1158.8C2042.9 1158.8 2054.4 1317.3 2060.2 1317.3C2063.6 1317.3 2070.3 1308.0 2073.7 1308.0C2075.1 1308.0 2077.8 1309.1 2079.2 1309.1C2082.9 1309.1 2090.4 1199.5 2094.1 1199.5C2096.1 1199.5 2100.2 1280.6 2102.2 1280.6C2105.2 1280.6 2111.3 1080.1 2114.4 1080.1C2122.6 1080.1 2138.8 1288.5 2147.0 1298.3C2148.3 1299.9 2151.1 1301.0 2152.4 1302.6C2156.5 1307.5 2164.6 1375.6 2168.7 1375.6C2178.5 1375.6 2198.2 874.3 2208.0 874.3C2213.1 874.3 2223.2 1219.8 2228.3 1222.3C2229.7 1223.0 2232.4 1223.3 2233.8 1223.9C2236.5 1225.1 2241.9 1241.3 2244.6 1241.3C2246.7 1241.3 2250.8 1221.2 2252.8 1221.2C2255.8 1221.2 2261.7 1275.5 2264.7 1293.6" fill="none" stroke="#77AC30" stroke-width="12" stroke-dasharray="38 40" stroke-dashoffset="14" stroke-linejoin="round"/>
<path d="M215.0 1147.2C219.3 1085.8 227.8 901.5 232.1 901.5C238.9 901.5 252.4 996.2 259.2 1027.8C269.7 1076.8 290.8 1223.7 301.3 1223.7C308.4 1223.7 322.7 858.1 329.8 858.1C340.0 858.1 360.3 1248.1 370.5 1248.1C381.4 1248.1 403.0 968.9 413.9 968.9C419.6 968.9 431.1 1143.7 436.9 1143.7C442.7 1143.7 454.2 848.6 460.0 848.6C469.1 848.6 487.5 928.4 496.6 928.4C501.7 928.4 511.8 779.4 516.9 779.4C521.6 779.4 531.1 1143.7 535.9 1143.7C538.6 1143.7 544.1 1058.4 546.8 1058.4C551.5 1058.4 561.0 1189.8 565.8 1189.8C570.5 1189.8 580.0 990.6 584.7 990.6C592.2 990.6 607.1 1290.1 614.6 1290.1C622.0 1290.1 637.0 894.7 644.4 894.7C649.8 894.7 660.7 1169.3 666.1 1204.1C669.8 1228.0 677.3 1268.4 681.0 1268.4C682.7 1268.4 686.1 1234.7 687.8 1234.7C692.3 1234.7 701.3 1284.7 705.8 1284.7C716.0 1284.7 736.3 1142.5 746.5 1142.5C750.6 1142.5 758.7 1173.5 762.8 1173.5C765.5 1173.5 771.0 1153.4 773.7 1153.4C777.4 1153.4 784.9 1258.9 788.6 1258.9C789.6 1258.9 791.6 1256.4 792.6 1256.4C796.1 1256.4 803.2 1336.2 806.8 1336.2C814.8 1336.2 830.8 970.6 838.8 970.6C846.2 970.6 861.1 1178.9 868.6 1178.9C870.6 1178.9 874.7 1126.2 876.7 1126.2C879.4 1126.2 884.9 1252.2 887.6 1252.2C889.8 1252.2 894.1 1209.8 896.3 1168.9C897.0 1156.2 898.3 1024.9 899.0 1011.5C902.0 950.9 908.2 932.6 911.2 891.2C912.2 877.3 914.3 832.0 915.3 815.2C916.6 793.1 919.4 751.0 920.7 736.6C922.1 722.2 924.8 691.2 926.1 691.2C927.5 691.2 930.1 717.3 931.5 736.6C932.1 745.5 933.4 800.5 934.0 815.2C939.4 940.8 950.0 1165.4 955.4 1165.4C960.8 1165.4 971.7 971.6 977.1 971.6C981.2 971.6 989.3 1178.9 993.4 1178.9C999.5 1178.9 1011.7 1063.9 1017.8 1063.9C1022.5 1063.9 1032.0 1298.3 1036.8 1298.3C1045.6 1298.3 1063.2 892.0 1072.0 892.0C1077.4 892.0 1088.3 1100.3 1093.7 1100.3C1096.4 1100.3 1101.9 998.8 1104.6 998.8C1105.9 998.8 1108.7 1092.1 1110.0 1092.1C1112.0 1092.1 1116.1 1020.5 1118.1 1020.5C1120.1 1020.5 1124.2 1124.7 1126.3 1124.7C1130.4 1124.7 1138.5 1050.3 1142.6 1050.3C1145.3 1050.3 1150.7 1086.7 1153.4 1086.7C1156.8 1086.7 1163.6 1066.6 1167.0 1066.6C1173.1 1066.6 1185.3 1307.2 1191.4 1309.9C1194.1 1311.1 1199.5 1311.5 1202.2 1312.6C1205.6 1314.0 1212.4 1336.2 1215.8 1336.2C1219.9 1336.2 1228.0 1305.3 1232.1 1305.3C1237.8 1305.3 1249.3 1332.2 1255.1 1332.2C1257.9 1332.2 1263.6 1175.1 1266.4 1175.1C1269.5 1175.1 1275.5 1218.3 1278.6 1218.3C1288.8 1218.3 1309.1 816.0 1319.3 816.0C1329.8 816.0 1350.8 1120.3 1361.3 1149.9C1363.3 1155.6 1367.4 1160.5 1369.4 1166.1C1372.8 1175.5 1379.6 1219.5 1383.0 1234.0C1387.8 1254.3 1397.2 1303.7 1402.0 1303.7C1405.0 1303.7 1411.2 1257.8 1414.2 1257.8C1415.9 1257.8 1419.3 1268.4 1421.0 1268.4C1423.7 1268.4 1429.1 1215.6 1431.8 1175.6C1432.5 1165.6 1433.8 1111.7 1434.5 1098.3C1435.9 1071.0 1438.6 1044.6 1440.0 1019.7C1440.9 1003.9 1442.6 961.1 1443.5 937.3C1444.1 920.9 1445.3 880.2 1445.9 861.3C1446.5 841.6 1447.8 801.9 1448.4 782.7C1449.6 747.4 1451.8 645.1 1453.0 645.1C1455.8 645.1 1461.6 725.3 1464.4 755.6C1466.1 773.7 1469.5 826.6 1471.2 834.2C1472.5 840.3 1475.2 849.7 1476.6 849.7C1478.6 849.7 1482.7 844.5 1484.7 844.5C1490.8 844.5 1503.0 1122.0 1509.1 1122.0C1513.5 1122.0 1522.4 1017.7 1526.8 1017.7C1531.5 1017.7 1541.0 1145.0 1545.8 1145.0C1548.5 1145.0 1553.9 1126.2 1556.6 1126.2C1559.3 1126.2 1564.8 1173.5 1567.5 1173.5C1574.6 1173.5 1588.8 1070.6 1595.9 1070.6C1599.0 1070.6 1605.0 1170.8 1608.1 1170.8C1613.5 1170.8 1624.4 1066.6 1629.8 1066.6C1633.5 1066.6 1641.0 1178.9 1644.8 1178.9C1648.8 1178.9 1657.0 1076.1 1661.0 1076.1C1666.1 1076.1 1676.3 1355.2 1681.4 1355.2C1689.5 1355.2 1705.8 1169.6 1713.9 1169.6C1715.6 1169.6 1719.0 1200.6 1720.7 1200.6C1723.1 1200.6 1727.8 1169.6 1730.2 1169.6C1733.6 1169.6 1740.4 1227.7 1743.8 1227.7C1746.5 1227.7 1751.9 1215.8 1754.6 1215.8C1759.3 1215.8 1768.8 1284.1 1773.6 1284.1C1774.0 1284.1 1775.0 1284.1 1775.4 1284.1C1778.1 1284.1 1783.5 1202.2 1786.2 1202.2C1788.2 1202.2 1792.3 1226.7 1794.3 1231.2C1800.8 1245.5 1813.6 1268.4 1820.1 1268.4C1821.4 1268.4 1824.2 1261.9 1825.5 1261.9C1828.2 1261.9 1833.7 1311.8 1836.4 1311.8C1845.9 1311.8 1864.9 977.1 1874.4 977.1C1878.1 977.1 1885.6 1176.4 1889.3 1178.9C1891.3 1180.2 1895.4 1180.7 1897.4 1181.9C1902.5 1184.9 1912.7 1246.7 1917.8 1246.7C1922.2 1246.7 1931.0 927.2 1935.4 927.2C1945.2 927.2 1964.9 1216.9 1974.7 1216.9C1977.8 1216.9 1983.9 1153.4 1986.9 1153.4C1988.3 1153.4 1991.0 1181.6 1992.4 1181.6C1999.5 1181.6 2013.7 990.6 2020.8 990.6C2021.8 990.6 2023.9 997.2 2024.9 997.2C2029.0 997.2 2037.1 896.0 2041.2 896.0C2053.4 896.0 2077.8 1265.7 2090.0 1265.7C2094.1 1265.7 2102.2 1207.6 2106.3 1207.6C2110.4 1207.6 2118.5 1271.1 2122.6 1271.1C2128.7 1271.1 2140.9 1139.8 2147.0 1139.8C2148.3 1139.8 2151.1 1146.4 2152.4 1146.4C2154.1 1146.4 2157.5 1088.3 2159.2 1088.3C2162.2 1088.3 2168.3 1146.4 2171.4 1146.4C2174.1 1146.4 2179.5 1110.0 2182.2 1110.0C2188.3 1110.0 2200.5 1265.7 2206.6 1265.7C2207.6 1265.7 2209.7 1261.9 2210.7 1261.9C2212.8 1261.9 2216.8 1311.8 2218.9 1311.8C2224.3 1311.8 2235.2 996.0 2240.6 996.0C2246.6 996.0 2258.7 1156.1 2264.7 1209.5" fill="none" stroke="#4DBEEE" stroke-opacity="0.53" stroke-width="7.4" stroke-linejoin="round"/>
<path d="M215.0 1147.2C219.3 1085.8 227.8 901.5 232.1 901.5C238.9 901.5 252.4 996.2 259.2 1027.8C269.7 1076.8 290.8 1223.7 301.3 1223.7C308.4 1223.7 322.7 858.1 329.8 858.1C340.0 858.1 360.3 1248.1 370.5 1248.1C381.4 1248.1 403.0 968.9 413.9 968.9C419.6 968.9 431.1 1143.7 436.9 1143.7C442.7 1143.7 454.2 848.6 460.0 848.6C469.1 848.6 487.5 928.4 496.6 928.4C501.7 928.4 511.8 779.4 516.9 779.4C521.6 779.4 531.1 1143.7 535.9 1143.7C538.6 1143.7 544.1 1058.4 546.8 1058.4C551.5 1058.4 561.0 1189.8 565.8 1189.8C570.5 1189.8 580.0 990.6 584.7 990.6C592.2 990.6 607.1 1290.1 614.6 1290.1C622.0 1290.1 637.0 894.7 644.4 894.7C649.8 894.7 660.7 1169.3 666.1 1204.1C669.8 1228.0 677.3 1268.4 681.0 1268.4C682.7 1268.4 686.1 1234.7 687.8 1234.7C692.3 1234.7 701.3 1284.7 705.8 1284.7C716.0 1284.7 736.3 1142.5 746.5 1142.5C750.6 1142.5 758.7 1173.5 762.8 1173.5C765.5 1173.5 771.0 1153.4 773.7 1153.4C777.4 1153.4 784.9 1258.9 788.6 1258.9C789.6 1258.9 791.6 1256.4 792.6 1256.4C796.1 1256.4 803.2 1336.2 806.8 1336.2C814.8 1336.2 830.8 970.6 838.8 970.6C846.2 970.6 861.1 1178.9 868.6 1178.9C870.6 1178.9 874.7 1126.2 876.7 1126.2C879.4 1126.2 884.9 1252.2 887.6 1252.2C889.8 1252.2 894.1 1209.8 896.3 1168.9C897.0 1156.2 898.3 1024.9 899.0 1011.5C902.0 950.9 908.2 932.6 911.2 891.2C912.2 877.3 914.3 832.0 915.3 815.2C916.6 793.1 919.4 751.0 920.7 736.6C922.1 722.2 924.8 691.2 926.1 691.2C927.5 691.2 930.1 717.3 931.5 736.6C932.1 745.5 933.4 800.5 934.0 815.2C939.4 940.8 950.0 1165.4 955.4 1165.4C960.8 1165.4 971.7 971.6 977.1 971.6C981.2 971.6 989.3 1178.9 993.4 1178.9C999.5 1178.9 1011.7 1063.9 1017.8 1063.9C1022.5 1063.9 1032.0 1298.3 1036.8 1298.3C1045.6 1298.3 1063.2 892.0 1072.0 892.0C1077.4 892.0 1088.3 1100.3 1093.7 1100.3C1096.4 1100.3 1101.9 998.8 1104.6 998.8C1105.9 998.8 1108.7 1092.1 1110.0 1092.1C1112.0 1092.1 1116.1 1020.5 1118.1 1020.5C1120.1 1020.5 1124.2 1124.7 1126.3 1124.7C1130.4 1124.7 1138.5 1050.3 1142.6 1050.3C1145.3 1050.3 1150.7 1086.7 1153.4 1086.7C1156.8 1086.7 1163.6 1066.6 1167.0 1066.6C1173.1 1066.6 1185.3 1307.2 1191.4 1309.9C1194.1 1311.1 1199.5 1311.5 1202.2 1312.6C1205.6 1314.0 1212.4 1336.2 1215.8 1336.2C1219.9 1336.2 1228.0 1305.3 1232.1 1305.3C1237.8 1305.3 1249.3 1332.2 1255.1 1332.2C1257.9 1332.2 1263.6 1175.1 1266.4 1175.1C1269.5 1175.1 1275.5 1218.3 1278.6 1218.3C1288.8 1218.3 1309.1 816.0 1319.3 816.0C1329.8 816.0 1350.8 1120.3 1361.3 1149.9C1363.3 1155.6 1367.4 1160.5 1369.4 1166.1C1372.8 1175.5 1379.6 1219.5 1383.0 1234.0C1387.8 1254.3 1397.2 1303.7 1402.0 1303.7C1405.0 1303.7 1411.2 1257.8 1414.2 1257.8C1415.9 1257.8 1419.3 1268.4 1421.0 1268.4C1423.7 1268.4 1429.1 1215.6 1431.8 1175.6C1432.5 1165.6 1433.8 1111.7 1434.5 1098.3C1435.9 1071.0 1438.6 1044.6 1440.0 1019.7C1440.9 1003.9 1442.6 961.1 1443.5 937.3C1444.1 920.9 1445.3 880.2 1445.9 861.3C1446.5 841.6 1447.8 801.9 1448.4 782.7C1449.6 747.4 1451.8 645.1 1453.0 645.1C1455.8 645.1 1461.6 725.3 1464.4 755.6C1466.1 773.7 1469.5 826.6 1471.2 834.2C1472.5 840.3 1475.2 849.7 1476.6 849.7C1478.6 849.7 1482.7 844.5 1484.7 844.5C1490.8 844.5 1503.0 1122.0 1509.1 1122.0C1513.5 1122.0 1522.4 1017.7 1526.8 1017.7C1531.5 1017.7 1541.0 1145.0 1545.8 1145.0C1548.5 1145.0 1553.9 1126.2 1556.6 1126.2C1559.3 1126.2 1564.8 1173.5 1567.5 1173.5C1574.6 1173.5 1588.8 1070.6 1595.9 1070.6C1599.0 1070.6 1605.0 1170.8 1608.1 1170.8C1613.5 1170.8 1624.4 1066.6 1629.8 1066.6C1633.5 1066.6 1641.0 1178.9 1644.8 1178.9C1648.8 1178.9 1657.0 1076.1 1661.0 1076.1C1666.1 1076.1 1676.3 1355.2 1681.4 1355.2C1689.5 1355.2 1705.8 1169.6 1713.9 1169.6C1715.6 1169.6 1719.0 1200.6 1720.7 1200.6C1723.1 1200.6 1727.8 1169.6 1730.2 1169.6C1733.6 1169.6 1740.4 1227.7 1743.8 1227.7C1746.5 1227.7 1751.9 1215.8 1754.6 1215.8C1759.3 1215.8 1768.8 1284.1 1773.6 1284.1C1774.0 1284.1 1775.0 1284.1 1775.4 1284.1C1778.1 1284.1 1783.5 1202.2 1786.2 1202.2C1788.2 1202.2 1792.3 1226.7 1794.3 1231.2C1800.8 1245.5 1813.6 1268.4 1820.1 1268.4C1821.4 1268.4 1824.2 1261.9 1825.5 1261.9C1828.2 1261.9 1833.7 1311.8 1836.4 1311.8C1845.9 1311.8 1864.9 977.1 1874.4 977.1C1878.1 977.1 1885.6 1176.4 1889.3 1178.9C1891.3 1180.2 1895.4 1180.7 1897.4 1181.9C1902.5 1184.9 1912.7 1246.7 1917.8 1246.7C1922.2 1246.7 1931.0 927.2 1935.4 927.2C1945.2 927.2 1964.9 1216.9 1974.7 1216.9C1977.8 1216.9 1983.9 1153.4 1986.9 1153.4C1988.3 1153.4 1991.0 1181.6 1992.4 1181.6C1999.5 1181.6 2013.7 990.6 2020.8 990.6C2021.8 990.6 2023.9 997.2 2024.9 997.2C2029.0 997.2 2037.1 896.0 2041.2 896.0C2053.4 896.0 2077.8 1265.7 2090.0 1265.7C2094.1 1265.7 2102.2 1207.6 2106.3 1207.6C2110.4 1207.6 2118.5 1271.1 2122.6 1271.1C2128.7 1271.1 2140.9 1139.8 2147.0 1139.8C2148.3 1139.8 2151.1 1146.4 2152.4 1146.4C2154.1 1146.4 2157.5 1088.3 2159.2 1088.3C2162.2 1088.3 2168.3 1146.4 2171.4 1146.4C2174.1 1146.4 2179.5 1110.0 2182.2 1110.0C2188.3 1110.0 2200.5 1265.7 2206.6 1265.7C2207.6 1265.7 2209.7 1261.9 2210.7 1261.9C2212.8 1261.9 2216.8 1311.8 2218.9 1311.8C2224.3 1311.8 2235.2 996.0 2240.6 996.0C2246.6 996.0 2258.7 1156.1 2264.7 1209.5" fill="none" stroke="#4DBEEE" stroke-width="12" stroke-dasharray="38 40" stroke-dashoffset="0" stroke-linejoin="round"/>
<g font-size="66" fill="#262626">
<text transform="translate(215.0 1634.3) scale(1 1.03)" text-anchor="middle">0</text>
<text transform="translate(556.6 1634.3) scale(1 1.03)" text-anchor="middle">10</text>
<text transform="translate(898.2 1634.3) scale(1 1.03)" text-anchor="middle">20</text>
<text transform="translate(1239.8 1634.3) scale(1 1.03)" text-anchor="middle">30</text>
<text transform="translate(1581.3 1634.3) scale(1 1.03)" text-anchor="middle">40</text>
<text transform="translate(1922.9 1634.3) scale(1 1.03)" text-anchor="middle">50</text>
<text transform="translate(2264.5 1634.3) scale(1 1.03)" text-anchor="middle">60</text>
<text transform="translate(191.2 1571.8) scale(1 1.03)" text-anchor="end">0</text>
<text transform="translate(191.2 1366.2) scale(1 1.03)" text-anchor="end">0<tspan dx="-1.6">.</tspan><tspan dx="-1.6">5</tspan></text>
<text transform="translate(191.2 1160.7) scale(1 1.03)" text-anchor="end">1</text>
<text transform="translate(191.2 955.1) scale(1 1.03)" text-anchor="end">1<tspan dx="-1.6">.</tspan><tspan dx="-1.6">5</tspan></text>
<text transform="translate(191.2 749.5) scale(1 1.03)" text-anchor="end">2</text>
<text transform="translate(191.2 543.9) scale(1 1.03)" text-anchor="end">2<tspan dx="-1.6">.</tspan><tspan dx="-1.6">5</tspan></text>
<text transform="translate(191.2 338.4) scale(1 1.03)" text-anchor="end">3</text>
<text transform="translate(191.2 132.8) scale(1 1.03)" text-anchor="end">3<tspan dx="-1.6">.</tspan><tspan dx="-1.6">5</tspan></text>
</g>
<g font-size="72" fill="#262626">
<text x="1239.8" y="1721" text-anchor="middle">Time (min)</text>
<text transform="translate(76.8 828.5) rotate(-90)" text-anchor="middle">Power (MW)</text>
</g>
<text x="218" y="73" font-size="71.5" fill="#000">Turbines<tspan font-weight="bold" font-size="72"><tspan x="506" fill="#0072BD">2</tspan><tspan x="581" fill="#D95319">16</tspan><tspan x="691.5" fill="#EDB120">22</tspan><tspan x="802.5" fill="#7E2F8E">27</tspan><tspan x="912.5" fill="#77AC30">31</tspan><tspan x="1024" fill="#4DBEEE">38</tspan></tspan></text>
</svg></body></html>
